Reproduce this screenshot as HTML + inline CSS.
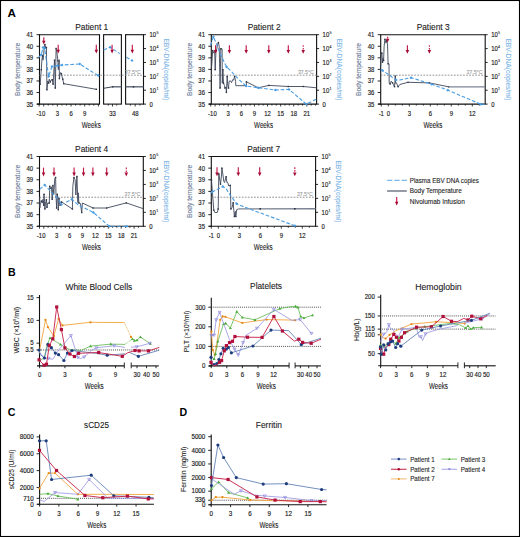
<!DOCTYPE html>
<html><head><meta charset="utf-8"><style>html,body{margin:0;padding:0;background:#fff;width:520px;height:537px;overflow:hidden}svg{display:block}text{font-family:"Liberation Sans",sans-serif}</style></head><body>
<svg width="520" height="537" viewBox="0 0 520 537" font-family='"Liberation Sans", sans-serif'>
<rect x="0" y="0" width="520" height="537" fill="#fff"/>
<rect x="0.5" y="0.5" width="519" height="536" fill="none" stroke="#000" stroke-width="1.1"/>
<text x="7.40" y="16.70" font-size="10.6" fill="#000" font-weight="bold" textLength="8.4" lengthAdjust="spacingAndGlyphs">A</text>
<text x="8.00" y="276.10" font-size="10.6" fill="#000" font-weight="bold">B</text>
<text x="7.80" y="415.60" font-size="10.6" fill="#000" font-weight="bold">C</text>
<text x="179.60" y="415.60" font-size="10.6" fill="#000" font-weight="bold">D</text>
<line x1="39.50" y1="34.70" x2="99.50" y2="34.70" stroke="#111" stroke-width="1.1"/>
<line x1="39.50" y1="34.20" x2="39.50" y2="104.60" stroke="#111" stroke-width="1.1"/>
<line x1="99.50" y1="34.20" x2="99.50" y2="104.60" stroke="#111" stroke-width="1.1"/>
<line x1="37.00" y1="104.10" x2="99.50" y2="104.10" stroke="#111" stroke-width="1.1"/>
<line x1="103.60" y1="34.70" x2="121.40" y2="34.70" stroke="#111" stroke-width="1.1"/>
<line x1="103.60" y1="34.20" x2="103.60" y2="104.60" stroke="#111" stroke-width="1.1"/>
<line x1="121.40" y1="34.20" x2="121.40" y2="104.60" stroke="#111" stroke-width="1.1"/>
<line x1="103.60" y1="104.10" x2="121.40" y2="104.10" stroke="#111" stroke-width="1.1"/>
<line x1="125.60" y1="34.70" x2="143.50" y2="34.70" stroke="#111" stroke-width="1.1"/>
<line x1="125.60" y1="34.20" x2="125.60" y2="104.60" stroke="#111" stroke-width="1.1"/>
<line x1="143.50" y1="34.20" x2="143.50" y2="104.60" stroke="#111" stroke-width="1.1"/>
<line x1="125.60" y1="104.10" x2="143.50" y2="104.10" stroke="#111" stroke-width="1.1"/>
<line x1="36.50" y1="104.10" x2="39.50" y2="104.10" stroke="#111" stroke-width="0.9"/>
<text x="33.20" y="106.50" font-size="6.7" fill="#222" text-anchor="end" textLength="6.63" lengthAdjust="spacingAndGlyphs" stroke="#222" stroke-width="0.16">35</text>
<line x1="36.50" y1="92.53" x2="39.50" y2="92.53" stroke="#111" stroke-width="0.9"/>
<text x="33.20" y="94.93" font-size="6.7" fill="#222" text-anchor="end" textLength="6.63" lengthAdjust="spacingAndGlyphs" stroke="#222" stroke-width="0.16">36</text>
<line x1="36.50" y1="80.97" x2="39.50" y2="80.97" stroke="#111" stroke-width="0.9"/>
<text x="33.20" y="83.37" font-size="6.7" fill="#222" text-anchor="end" textLength="6.63" lengthAdjust="spacingAndGlyphs" stroke="#222" stroke-width="0.16">37</text>
<line x1="36.50" y1="69.40" x2="39.50" y2="69.40" stroke="#111" stroke-width="0.9"/>
<text x="33.20" y="71.80" font-size="6.7" fill="#222" text-anchor="end" textLength="6.63" lengthAdjust="spacingAndGlyphs" stroke="#222" stroke-width="0.16">38</text>
<line x1="36.50" y1="57.83" x2="39.50" y2="57.83" stroke="#111" stroke-width="0.9"/>
<text x="33.20" y="60.23" font-size="6.7" fill="#222" text-anchor="end" textLength="6.63" lengthAdjust="spacingAndGlyphs" stroke="#222" stroke-width="0.16">39</text>
<line x1="36.50" y1="46.27" x2="39.50" y2="46.27" stroke="#111" stroke-width="0.9"/>
<text x="33.20" y="48.67" font-size="6.7" fill="#222" text-anchor="end" textLength="6.63" lengthAdjust="spacingAndGlyphs" stroke="#222" stroke-width="0.16">40</text>
<line x1="36.50" y1="34.70" x2="39.50" y2="34.70" stroke="#111" stroke-width="0.9"/>
<text x="33.20" y="37.10" font-size="6.7" fill="#222" text-anchor="end" textLength="6.63" lengthAdjust="spacingAndGlyphs" stroke="#222" stroke-width="0.16">41</text>
<line x1="143.50" y1="104.10" x2="146.00" y2="104.10" stroke="#111" stroke-width="0.9"/>
<text x="149.50" y="106.50" font-size="6.7" fill="#222" textLength="3.32" lengthAdjust="spacingAndGlyphs" stroke="#222" stroke-width="0.16">0</text>
<line x1="143.50" y1="90.22" x2="146.00" y2="90.22" stroke="#111" stroke-width="0.9"/>
<text x="149.50" y="92.62" font-size="6.7" fill="#222" textLength="6.63" lengthAdjust="spacingAndGlyphs" stroke="#222" stroke-width="0.16">10</text>
<text x="156.40" y="89.92" font-size="3.6" fill="#222" stroke="#222" stroke-width="0.1">1</text>
<line x1="143.50" y1="76.34" x2="146.00" y2="76.34" stroke="#111" stroke-width="0.9"/>
<text x="149.50" y="78.74" font-size="6.7" fill="#222" textLength="6.63" lengthAdjust="spacingAndGlyphs" stroke="#222" stroke-width="0.16">10</text>
<text x="156.40" y="76.04" font-size="3.6" fill="#222" stroke="#222" stroke-width="0.1">2</text>
<line x1="143.50" y1="62.46" x2="146.00" y2="62.46" stroke="#111" stroke-width="0.9"/>
<text x="149.50" y="64.86" font-size="6.7" fill="#222" textLength="6.63" lengthAdjust="spacingAndGlyphs" stroke="#222" stroke-width="0.16">10</text>
<text x="156.40" y="62.16" font-size="3.6" fill="#222" stroke="#222" stroke-width="0.1">3</text>
<line x1="143.50" y1="48.58" x2="146.00" y2="48.58" stroke="#111" stroke-width="0.9"/>
<text x="149.50" y="50.98" font-size="6.7" fill="#222" textLength="6.63" lengthAdjust="spacingAndGlyphs" stroke="#222" stroke-width="0.16">10</text>
<text x="156.40" y="48.28" font-size="3.6" fill="#222" stroke="#222" stroke-width="0.1">4</text>
<line x1="143.50" y1="34.70" x2="146.00" y2="34.70" stroke="#111" stroke-width="0.9"/>
<text x="149.50" y="37.10" font-size="6.7" fill="#222" textLength="6.63" lengthAdjust="spacingAndGlyphs" stroke="#222" stroke-width="0.16">10</text>
<text x="156.40" y="34.40" font-size="3.6" fill="#222" stroke="#222" stroke-width="0.1">5</text>
<line x1="39.14" y1="104.10" x2="39.14" y2="106.50" stroke="#111" stroke-width="0.8"/>
<text x="39.14" y="115.70" font-size="6.7" fill="#222" text-anchor="middle" textLength="5.30" lengthAdjust="spacingAndGlyphs" stroke="#222" stroke-width="0.16">-1</text>
<line x1="43.70" y1="104.10" x2="43.70" y2="106.50" stroke="#111" stroke-width="0.8"/>
<text x="43.70" y="115.70" font-size="6.7" fill="#222" text-anchor="middle" textLength="3.32" lengthAdjust="spacingAndGlyphs" stroke="#222" stroke-width="0.16">0</text>
<line x1="48.26" y1="104.10" x2="48.26" y2="105.60" stroke="#111" stroke-width="0.8"/>
<line x1="52.81" y1="104.10" x2="52.81" y2="105.60" stroke="#111" stroke-width="0.8"/>
<line x1="57.37" y1="104.10" x2="57.37" y2="106.50" stroke="#111" stroke-width="0.8"/>
<text x="57.37" y="115.70" font-size="6.7" fill="#222" text-anchor="middle" textLength="3.32" lengthAdjust="spacingAndGlyphs" stroke="#222" stroke-width="0.16">3</text>
<line x1="61.92" y1="104.10" x2="61.92" y2="105.60" stroke="#111" stroke-width="0.8"/>
<line x1="66.48" y1="104.10" x2="66.48" y2="105.60" stroke="#111" stroke-width="0.8"/>
<line x1="71.04" y1="104.10" x2="71.04" y2="106.50" stroke="#111" stroke-width="0.8"/>
<text x="71.04" y="115.70" font-size="6.7" fill="#222" text-anchor="middle" textLength="3.32" lengthAdjust="spacingAndGlyphs" stroke="#222" stroke-width="0.16">6</text>
<line x1="75.59" y1="104.10" x2="75.59" y2="105.60" stroke="#111" stroke-width="0.8"/>
<line x1="80.15" y1="104.10" x2="80.15" y2="105.60" stroke="#111" stroke-width="0.8"/>
<line x1="84.70" y1="104.10" x2="84.70" y2="106.50" stroke="#111" stroke-width="0.8"/>
<text x="84.70" y="115.70" font-size="6.7" fill="#222" text-anchor="middle" textLength="3.32" lengthAdjust="spacingAndGlyphs" stroke="#222" stroke-width="0.16">9</text>
<line x1="89.26" y1="104.10" x2="89.26" y2="105.60" stroke="#111" stroke-width="0.8"/>
<line x1="93.82" y1="104.10" x2="93.82" y2="105.60" stroke="#111" stroke-width="0.8"/>
<line x1="98.37" y1="104.10" x2="98.37" y2="106.50" stroke="#111" stroke-width="0.8"/>
<line x1="108.30" y1="104.10" x2="108.30" y2="105.60" stroke="#111" stroke-width="0.8"/>
<line x1="116.70" y1="104.10" x2="116.70" y2="105.60" stroke="#111" stroke-width="0.8"/>
<line x1="112.50" y1="104.10" x2="112.50" y2="106.50" stroke="#111" stroke-width="0.8"/>
<text x="112.50" y="115.70" font-size="6.7" fill="#222" text-anchor="middle" textLength="6.63" lengthAdjust="spacingAndGlyphs" stroke="#222" stroke-width="0.16">33</text>
<line x1="130.45" y1="104.10" x2="130.45" y2="105.60" stroke="#111" stroke-width="0.8"/>
<line x1="139.95" y1="104.10" x2="139.95" y2="105.60" stroke="#111" stroke-width="0.8"/>
<line x1="135.20" y1="104.10" x2="135.20" y2="106.50" stroke="#111" stroke-width="0.8"/>
<text x="135.20" y="115.70" font-size="6.7" fill="#222" text-anchor="middle" textLength="6.63" lengthAdjust="spacingAndGlyphs" stroke="#222" stroke-width="0.16">48</text>
<text x="91.70" y="29.80" font-size="8.8" fill="#1a1a1a" text-anchor="middle" textLength="33" lengthAdjust="spacingAndGlyphs" stroke="#1a1a1a" stroke-width="0.1">Patient 1</text>
<text x="91.30" y="127.50" font-size="8.4" fill="#222" text-anchor="middle" textLength="19" lengthAdjust="spacingAndGlyphs" stroke="#222" stroke-width="0.1">Weeks</text>
<text x="20.00" y="69.40" font-size="7.2" fill="#6a7a98" text-anchor="middle" textLength="53" lengthAdjust="spacingAndGlyphs" transform="rotate(-90 20.00 69.40)" stroke="#6a7a98" stroke-width="0.1">Body temperature</text>
<text x="164.00" y="69.40" font-size="7.2" fill="#79b4e6" text-anchor="middle" textLength="62" lengthAdjust="spacingAndGlyphs" transform="rotate(90 164.00 69.40)" stroke="#79b4e6" stroke-width="0.1">EBV-DNA(copies/ml)</text>
<line x1="39.50" y1="75.18" x2="143.50" y2="75.18" stroke="#858585" stroke-width="0.9" stroke-dasharray="1.7,1.35"/>
<text x="140.70" y="73.78" font-size="6.0" fill="#9a9a9a" text-anchor="end" textLength="15.9" lengthAdjust="spacingAndGlyphs" stroke="#9a9a9a" stroke-width="0.1">37.5°C</text>
<line x1="211.30" y1="34.70" x2="316.60" y2="34.70" stroke="#111" stroke-width="1.1"/>
<line x1="211.30" y1="34.20" x2="211.30" y2="104.60" stroke="#111" stroke-width="1.1"/>
<line x1="316.60" y1="34.20" x2="316.60" y2="104.60" stroke="#111" stroke-width="1.1"/>
<line x1="208.80" y1="104.10" x2="316.60" y2="104.10" stroke="#111" stroke-width="1.1"/>
<line x1="208.30" y1="104.10" x2="211.30" y2="104.10" stroke="#111" stroke-width="0.9"/>
<text x="205.00" y="106.50" font-size="6.7" fill="#222" text-anchor="end" textLength="6.63" lengthAdjust="spacingAndGlyphs" stroke="#222" stroke-width="0.16">35</text>
<line x1="208.30" y1="92.53" x2="211.30" y2="92.53" stroke="#111" stroke-width="0.9"/>
<text x="205.00" y="94.93" font-size="6.7" fill="#222" text-anchor="end" textLength="6.63" lengthAdjust="spacingAndGlyphs" stroke="#222" stroke-width="0.16">36</text>
<line x1="208.30" y1="80.97" x2="211.30" y2="80.97" stroke="#111" stroke-width="0.9"/>
<text x="205.00" y="83.37" font-size="6.7" fill="#222" text-anchor="end" textLength="6.63" lengthAdjust="spacingAndGlyphs" stroke="#222" stroke-width="0.16">37</text>
<line x1="208.30" y1="69.40" x2="211.30" y2="69.40" stroke="#111" stroke-width="0.9"/>
<text x="205.00" y="71.80" font-size="6.7" fill="#222" text-anchor="end" textLength="6.63" lengthAdjust="spacingAndGlyphs" stroke="#222" stroke-width="0.16">38</text>
<line x1="208.30" y1="57.83" x2="211.30" y2="57.83" stroke="#111" stroke-width="0.9"/>
<text x="205.00" y="60.23" font-size="6.7" fill="#222" text-anchor="end" textLength="6.63" lengthAdjust="spacingAndGlyphs" stroke="#222" stroke-width="0.16">39</text>
<line x1="208.30" y1="46.27" x2="211.30" y2="46.27" stroke="#111" stroke-width="0.9"/>
<text x="205.00" y="48.67" font-size="6.7" fill="#222" text-anchor="end" textLength="6.63" lengthAdjust="spacingAndGlyphs" stroke="#222" stroke-width="0.16">40</text>
<line x1="208.30" y1="34.70" x2="211.30" y2="34.70" stroke="#111" stroke-width="0.9"/>
<text x="205.00" y="37.10" font-size="6.7" fill="#222" text-anchor="end" textLength="6.63" lengthAdjust="spacingAndGlyphs" stroke="#222" stroke-width="0.16">41</text>
<line x1="316.60" y1="104.10" x2="319.10" y2="104.10" stroke="#111" stroke-width="0.9"/>
<text x="322.60" y="106.50" font-size="6.7" fill="#222" textLength="3.32" lengthAdjust="spacingAndGlyphs" stroke="#222" stroke-width="0.16">0</text>
<line x1="316.60" y1="90.22" x2="319.10" y2="90.22" stroke="#111" stroke-width="0.9"/>
<text x="322.60" y="92.62" font-size="6.7" fill="#222" textLength="6.63" lengthAdjust="spacingAndGlyphs" stroke="#222" stroke-width="0.16">10</text>
<text x="329.50" y="89.92" font-size="3.6" fill="#222" stroke="#222" stroke-width="0.1">1</text>
<line x1="316.60" y1="76.34" x2="319.10" y2="76.34" stroke="#111" stroke-width="0.9"/>
<text x="322.60" y="78.74" font-size="6.7" fill="#222" textLength="6.63" lengthAdjust="spacingAndGlyphs" stroke="#222" stroke-width="0.16">10</text>
<text x="329.50" y="76.04" font-size="3.6" fill="#222" stroke="#222" stroke-width="0.1">2</text>
<line x1="316.60" y1="62.46" x2="319.10" y2="62.46" stroke="#111" stroke-width="0.9"/>
<text x="322.60" y="64.86" font-size="6.7" fill="#222" textLength="6.63" lengthAdjust="spacingAndGlyphs" stroke="#222" stroke-width="0.16">10</text>
<text x="329.50" y="62.16" font-size="3.6" fill="#222" stroke="#222" stroke-width="0.1">3</text>
<line x1="316.60" y1="48.58" x2="319.10" y2="48.58" stroke="#111" stroke-width="0.9"/>
<text x="322.60" y="50.98" font-size="6.7" fill="#222" textLength="6.63" lengthAdjust="spacingAndGlyphs" stroke="#222" stroke-width="0.16">10</text>
<text x="329.50" y="48.28" font-size="3.6" fill="#222" stroke="#222" stroke-width="0.1">4</text>
<line x1="316.60" y1="34.70" x2="319.10" y2="34.70" stroke="#111" stroke-width="0.9"/>
<text x="322.60" y="37.10" font-size="6.7" fill="#222" textLength="6.63" lengthAdjust="spacingAndGlyphs" stroke="#222" stroke-width="0.16">10</text>
<text x="329.50" y="34.40" font-size="3.6" fill="#222" stroke="#222" stroke-width="0.1">5</text>
<line x1="210.73" y1="104.10" x2="210.73" y2="106.50" stroke="#111" stroke-width="0.8"/>
<text x="210.73" y="115.70" font-size="6.7" fill="#222" text-anchor="middle" textLength="5.30" lengthAdjust="spacingAndGlyphs" stroke="#222" stroke-width="0.16">-1</text>
<line x1="215.10" y1="104.10" x2="215.10" y2="106.50" stroke="#111" stroke-width="0.8"/>
<text x="215.10" y="115.70" font-size="6.7" fill="#222" text-anchor="middle" textLength="3.32" lengthAdjust="spacingAndGlyphs" stroke="#222" stroke-width="0.16">0</text>
<line x1="219.47" y1="104.10" x2="219.47" y2="105.60" stroke="#111" stroke-width="0.8"/>
<line x1="223.84" y1="104.10" x2="223.84" y2="105.60" stroke="#111" stroke-width="0.8"/>
<line x1="228.21" y1="104.10" x2="228.21" y2="106.50" stroke="#111" stroke-width="0.8"/>
<text x="228.21" y="115.70" font-size="6.7" fill="#222" text-anchor="middle" textLength="3.32" lengthAdjust="spacingAndGlyphs" stroke="#222" stroke-width="0.16">3</text>
<line x1="232.58" y1="104.10" x2="232.58" y2="105.60" stroke="#111" stroke-width="0.8"/>
<line x1="236.95" y1="104.10" x2="236.95" y2="105.60" stroke="#111" stroke-width="0.8"/>
<line x1="241.32" y1="104.10" x2="241.32" y2="106.50" stroke="#111" stroke-width="0.8"/>
<text x="241.32" y="115.70" font-size="6.7" fill="#222" text-anchor="middle" textLength="3.32" lengthAdjust="spacingAndGlyphs" stroke="#222" stroke-width="0.16">6</text>
<line x1="245.69" y1="104.10" x2="245.69" y2="105.60" stroke="#111" stroke-width="0.8"/>
<line x1="250.06" y1="104.10" x2="250.06" y2="105.60" stroke="#111" stroke-width="0.8"/>
<line x1="254.43" y1="104.10" x2="254.43" y2="106.50" stroke="#111" stroke-width="0.8"/>
<text x="254.43" y="115.70" font-size="6.7" fill="#222" text-anchor="middle" textLength="3.32" lengthAdjust="spacingAndGlyphs" stroke="#222" stroke-width="0.16">9</text>
<line x1="258.80" y1="104.10" x2="258.80" y2="105.60" stroke="#111" stroke-width="0.8"/>
<line x1="263.17" y1="104.10" x2="263.17" y2="105.60" stroke="#111" stroke-width="0.8"/>
<line x1="267.54" y1="104.10" x2="267.54" y2="106.50" stroke="#111" stroke-width="0.8"/>
<text x="267.54" y="115.70" font-size="6.7" fill="#222" text-anchor="middle" textLength="6.63" lengthAdjust="spacingAndGlyphs" stroke="#222" stroke-width="0.16">12</text>
<line x1="271.91" y1="104.10" x2="271.91" y2="105.60" stroke="#111" stroke-width="0.8"/>
<line x1="276.28" y1="104.10" x2="276.28" y2="105.60" stroke="#111" stroke-width="0.8"/>
<line x1="280.65" y1="104.10" x2="280.65" y2="106.50" stroke="#111" stroke-width="0.8"/>
<text x="280.65" y="115.70" font-size="6.7" fill="#222" text-anchor="middle" textLength="6.63" lengthAdjust="spacingAndGlyphs" stroke="#222" stroke-width="0.16">15</text>
<line x1="285.02" y1="104.10" x2="285.02" y2="105.60" stroke="#111" stroke-width="0.8"/>
<line x1="289.39" y1="104.10" x2="289.39" y2="105.60" stroke="#111" stroke-width="0.8"/>
<line x1="293.76" y1="104.10" x2="293.76" y2="106.50" stroke="#111" stroke-width="0.8"/>
<text x="293.76" y="115.70" font-size="6.7" fill="#222" text-anchor="middle" textLength="6.63" lengthAdjust="spacingAndGlyphs" stroke="#222" stroke-width="0.16">18</text>
<line x1="298.13" y1="104.10" x2="298.13" y2="105.60" stroke="#111" stroke-width="0.8"/>
<line x1="302.50" y1="104.10" x2="302.50" y2="105.60" stroke="#111" stroke-width="0.8"/>
<line x1="306.87" y1="104.10" x2="306.87" y2="106.50" stroke="#111" stroke-width="0.8"/>
<text x="306.87" y="115.70" font-size="6.7" fill="#222" text-anchor="middle" textLength="6.63" lengthAdjust="spacingAndGlyphs" stroke="#222" stroke-width="0.16">21</text>
<line x1="311.24" y1="104.10" x2="311.24" y2="105.60" stroke="#111" stroke-width="0.8"/>
<line x1="315.61" y1="104.10" x2="315.61" y2="105.60" stroke="#111" stroke-width="0.8"/>
<text x="264.15" y="29.80" font-size="8.8" fill="#1a1a1a" text-anchor="middle" textLength="33" lengthAdjust="spacingAndGlyphs" stroke="#1a1a1a" stroke-width="0.1">Patient 2</text>
<text x="263.60" y="127.50" font-size="8.4" fill="#222" text-anchor="middle" textLength="19" lengthAdjust="spacingAndGlyphs" stroke="#222" stroke-width="0.1">Weeks</text>
<text x="191.80" y="69.40" font-size="7.2" fill="#6a7a98" text-anchor="middle" textLength="53" lengthAdjust="spacingAndGlyphs" transform="rotate(-90 191.80 69.40)" stroke="#6a7a98" stroke-width="0.1">Body temperature</text>
<text x="337.10" y="69.40" font-size="7.2" fill="#79b4e6" text-anchor="middle" textLength="62" lengthAdjust="spacingAndGlyphs" transform="rotate(90 337.10 69.40)" stroke="#79b4e6" stroke-width="0.1">EBV-DNA(copies/ml)</text>
<line x1="211.30" y1="75.18" x2="316.60" y2="75.18" stroke="#858585" stroke-width="0.9" stroke-dasharray="1.7,1.35"/>
<text x="313.80" y="73.78" font-size="6.0" fill="#9a9a9a" text-anchor="end" textLength="15.9" lengthAdjust="spacingAndGlyphs" stroke="#9a9a9a" stroke-width="0.1">37.5°C</text>
<line x1="380.70" y1="34.70" x2="485.20" y2="34.70" stroke="#111" stroke-width="1.1"/>
<line x1="380.70" y1="34.20" x2="380.70" y2="104.60" stroke="#111" stroke-width="1.1"/>
<line x1="485.20" y1="34.20" x2="485.20" y2="104.60" stroke="#111" stroke-width="1.1"/>
<line x1="378.20" y1="104.10" x2="485.20" y2="104.10" stroke="#111" stroke-width="1.1"/>
<line x1="377.70" y1="104.10" x2="380.70" y2="104.10" stroke="#111" stroke-width="0.9"/>
<text x="374.40" y="106.50" font-size="6.7" fill="#222" text-anchor="end" textLength="6.63" lengthAdjust="spacingAndGlyphs" stroke="#222" stroke-width="0.16">35</text>
<line x1="377.70" y1="92.53" x2="380.70" y2="92.53" stroke="#111" stroke-width="0.9"/>
<text x="374.40" y="94.93" font-size="6.7" fill="#222" text-anchor="end" textLength="6.63" lengthAdjust="spacingAndGlyphs" stroke="#222" stroke-width="0.16">36</text>
<line x1="377.70" y1="80.97" x2="380.70" y2="80.97" stroke="#111" stroke-width="0.9"/>
<text x="374.40" y="83.37" font-size="6.7" fill="#222" text-anchor="end" textLength="6.63" lengthAdjust="spacingAndGlyphs" stroke="#222" stroke-width="0.16">37</text>
<line x1="377.70" y1="69.40" x2="380.70" y2="69.40" stroke="#111" stroke-width="0.9"/>
<text x="374.40" y="71.80" font-size="6.7" fill="#222" text-anchor="end" textLength="6.63" lengthAdjust="spacingAndGlyphs" stroke="#222" stroke-width="0.16">38</text>
<line x1="377.70" y1="57.83" x2="380.70" y2="57.83" stroke="#111" stroke-width="0.9"/>
<text x="374.40" y="60.23" font-size="6.7" fill="#222" text-anchor="end" textLength="6.63" lengthAdjust="spacingAndGlyphs" stroke="#222" stroke-width="0.16">39</text>
<line x1="377.70" y1="46.27" x2="380.70" y2="46.27" stroke="#111" stroke-width="0.9"/>
<text x="374.40" y="48.67" font-size="6.7" fill="#222" text-anchor="end" textLength="6.63" lengthAdjust="spacingAndGlyphs" stroke="#222" stroke-width="0.16">40</text>
<line x1="377.70" y1="34.70" x2="380.70" y2="34.70" stroke="#111" stroke-width="0.9"/>
<text x="374.40" y="37.10" font-size="6.7" fill="#222" text-anchor="end" textLength="6.63" lengthAdjust="spacingAndGlyphs" stroke="#222" stroke-width="0.16">41</text>
<line x1="485.20" y1="104.10" x2="487.70" y2="104.10" stroke="#111" stroke-width="0.9"/>
<text x="491.20" y="106.50" font-size="6.7" fill="#222" textLength="3.32" lengthAdjust="spacingAndGlyphs" stroke="#222" stroke-width="0.16">0</text>
<line x1="485.20" y1="90.22" x2="487.70" y2="90.22" stroke="#111" stroke-width="0.9"/>
<text x="491.20" y="92.62" font-size="6.7" fill="#222" textLength="6.63" lengthAdjust="spacingAndGlyphs" stroke="#222" stroke-width="0.16">10</text>
<text x="498.10" y="89.92" font-size="3.6" fill="#222" stroke="#222" stroke-width="0.1">1</text>
<line x1="485.20" y1="76.34" x2="487.70" y2="76.34" stroke="#111" stroke-width="0.9"/>
<text x="491.20" y="78.74" font-size="6.7" fill="#222" textLength="6.63" lengthAdjust="spacingAndGlyphs" stroke="#222" stroke-width="0.16">10</text>
<text x="498.10" y="76.04" font-size="3.6" fill="#222" stroke="#222" stroke-width="0.1">2</text>
<line x1="485.20" y1="62.46" x2="487.70" y2="62.46" stroke="#111" stroke-width="0.9"/>
<text x="491.20" y="64.86" font-size="6.7" fill="#222" textLength="6.63" lengthAdjust="spacingAndGlyphs" stroke="#222" stroke-width="0.16">10</text>
<text x="498.10" y="62.16" font-size="3.6" fill="#222" stroke="#222" stroke-width="0.1">3</text>
<line x1="485.20" y1="48.58" x2="487.70" y2="48.58" stroke="#111" stroke-width="0.9"/>
<text x="491.20" y="50.98" font-size="6.7" fill="#222" textLength="6.63" lengthAdjust="spacingAndGlyphs" stroke="#222" stroke-width="0.16">10</text>
<text x="498.10" y="48.28" font-size="3.6" fill="#222" stroke="#222" stroke-width="0.1">4</text>
<line x1="485.20" y1="34.70" x2="487.70" y2="34.70" stroke="#111" stroke-width="0.9"/>
<text x="491.20" y="37.10" font-size="6.7" fill="#222" textLength="6.63" lengthAdjust="spacingAndGlyphs" stroke="#222" stroke-width="0.16">10</text>
<text x="498.10" y="34.40" font-size="3.6" fill="#222" stroke="#222" stroke-width="0.1">5</text>
<line x1="381.30" y1="104.10" x2="381.30" y2="106.50" stroke="#111" stroke-width="0.8"/>
<text x="381.30" y="115.70" font-size="6.7" fill="#222" text-anchor="middle" textLength="5.30" lengthAdjust="spacingAndGlyphs" stroke="#222" stroke-width="0.16">-1</text>
<line x1="388.30" y1="104.10" x2="388.30" y2="106.50" stroke="#111" stroke-width="0.8"/>
<text x="388.30" y="115.70" font-size="6.7" fill="#222" text-anchor="middle" textLength="3.32" lengthAdjust="spacingAndGlyphs" stroke="#222" stroke-width="0.16">0</text>
<line x1="395.30" y1="104.10" x2="395.30" y2="105.60" stroke="#111" stroke-width="0.8"/>
<line x1="402.30" y1="104.10" x2="402.30" y2="105.60" stroke="#111" stroke-width="0.8"/>
<line x1="409.30" y1="104.10" x2="409.30" y2="106.50" stroke="#111" stroke-width="0.8"/>
<text x="409.30" y="115.70" font-size="6.7" fill="#222" text-anchor="middle" textLength="3.32" lengthAdjust="spacingAndGlyphs" stroke="#222" stroke-width="0.16">3</text>
<line x1="416.30" y1="104.10" x2="416.30" y2="105.60" stroke="#111" stroke-width="0.8"/>
<line x1="423.30" y1="104.10" x2="423.30" y2="105.60" stroke="#111" stroke-width="0.8"/>
<line x1="430.30" y1="104.10" x2="430.30" y2="106.50" stroke="#111" stroke-width="0.8"/>
<text x="430.30" y="115.70" font-size="6.7" fill="#222" text-anchor="middle" textLength="3.32" lengthAdjust="spacingAndGlyphs" stroke="#222" stroke-width="0.16">6</text>
<line x1="437.30" y1="104.10" x2="437.30" y2="105.60" stroke="#111" stroke-width="0.8"/>
<line x1="444.30" y1="104.10" x2="444.30" y2="105.60" stroke="#111" stroke-width="0.8"/>
<line x1="451.30" y1="104.10" x2="451.30" y2="106.50" stroke="#111" stroke-width="0.8"/>
<text x="451.30" y="115.70" font-size="6.7" fill="#222" text-anchor="middle" textLength="3.32" lengthAdjust="spacingAndGlyphs" stroke="#222" stroke-width="0.16">9</text>
<line x1="458.30" y1="104.10" x2="458.30" y2="105.60" stroke="#111" stroke-width="0.8"/>
<line x1="465.30" y1="104.10" x2="465.30" y2="105.60" stroke="#111" stroke-width="0.8"/>
<line x1="472.30" y1="104.10" x2="472.30" y2="106.50" stroke="#111" stroke-width="0.8"/>
<text x="472.30" y="115.70" font-size="6.7" fill="#222" text-anchor="middle" textLength="6.63" lengthAdjust="spacingAndGlyphs" stroke="#222" stroke-width="0.16">12</text>
<line x1="479.30" y1="104.10" x2="479.30" y2="105.60" stroke="#111" stroke-width="0.8"/>
<text x="433.15" y="29.80" font-size="8.8" fill="#1a1a1a" text-anchor="middle" textLength="33" lengthAdjust="spacingAndGlyphs" stroke="#1a1a1a" stroke-width="0.1">Patient 3</text>
<text x="433.00" y="127.50" font-size="8.4" fill="#222" text-anchor="middle" textLength="19" lengthAdjust="spacingAndGlyphs" stroke="#222" stroke-width="0.1">Weeks</text>
<text x="361.20" y="69.40" font-size="7.2" fill="#6a7a98" text-anchor="middle" textLength="53" lengthAdjust="spacingAndGlyphs" transform="rotate(-90 361.20 69.40)" stroke="#6a7a98" stroke-width="0.1">Body temperature</text>
<text x="505.70" y="69.40" font-size="7.2" fill="#79b4e6" text-anchor="middle" textLength="62" lengthAdjust="spacingAndGlyphs" transform="rotate(90 505.70 69.40)" stroke="#79b4e6" stroke-width="0.1">EBV-DNA(copies/ml)</text>
<line x1="380.70" y1="75.18" x2="485.20" y2="75.18" stroke="#858585" stroke-width="0.9" stroke-dasharray="1.7,1.35"/>
<text x="482.40" y="73.78" font-size="6.0" fill="#9a9a9a" text-anchor="end" textLength="15.9" lengthAdjust="spacingAndGlyphs" stroke="#9a9a9a" stroke-width="0.1">37.5°C</text>
<line x1="39.50" y1="156.50" x2="143.30" y2="156.50" stroke="#111" stroke-width="1.1"/>
<line x1="39.50" y1="156.00" x2="39.50" y2="226.80" stroke="#111" stroke-width="1.1"/>
<line x1="143.30" y1="156.00" x2="143.30" y2="226.80" stroke="#111" stroke-width="1.1"/>
<line x1="37.00" y1="226.30" x2="143.30" y2="226.30" stroke="#111" stroke-width="1.1"/>
<line x1="36.50" y1="226.30" x2="39.50" y2="226.30" stroke="#111" stroke-width="0.9"/>
<text x="33.20" y="228.70" font-size="6.7" fill="#222" text-anchor="end" textLength="6.63" lengthAdjust="spacingAndGlyphs" stroke="#222" stroke-width="0.16">35</text>
<line x1="36.50" y1="214.67" x2="39.50" y2="214.67" stroke="#111" stroke-width="0.9"/>
<text x="33.20" y="217.07" font-size="6.7" fill="#222" text-anchor="end" textLength="6.63" lengthAdjust="spacingAndGlyphs" stroke="#222" stroke-width="0.16">36</text>
<line x1="36.50" y1="203.03" x2="39.50" y2="203.03" stroke="#111" stroke-width="0.9"/>
<text x="33.20" y="205.43" font-size="6.7" fill="#222" text-anchor="end" textLength="6.63" lengthAdjust="spacingAndGlyphs" stroke="#222" stroke-width="0.16">37</text>
<line x1="36.50" y1="191.40" x2="39.50" y2="191.40" stroke="#111" stroke-width="0.9"/>
<text x="33.20" y="193.80" font-size="6.7" fill="#222" text-anchor="end" textLength="6.63" lengthAdjust="spacingAndGlyphs" stroke="#222" stroke-width="0.16">38</text>
<line x1="36.50" y1="179.77" x2="39.50" y2="179.77" stroke="#111" stroke-width="0.9"/>
<text x="33.20" y="182.17" font-size="6.7" fill="#222" text-anchor="end" textLength="6.63" lengthAdjust="spacingAndGlyphs" stroke="#222" stroke-width="0.16">39</text>
<line x1="36.50" y1="168.13" x2="39.50" y2="168.13" stroke="#111" stroke-width="0.9"/>
<text x="33.20" y="170.53" font-size="6.7" fill="#222" text-anchor="end" textLength="6.63" lengthAdjust="spacingAndGlyphs" stroke="#222" stroke-width="0.16">40</text>
<line x1="36.50" y1="156.50" x2="39.50" y2="156.50" stroke="#111" stroke-width="0.9"/>
<text x="33.20" y="158.90" font-size="6.7" fill="#222" text-anchor="end" textLength="6.63" lengthAdjust="spacingAndGlyphs" stroke="#222" stroke-width="0.16">41</text>
<line x1="143.30" y1="226.30" x2="145.80" y2="226.30" stroke="#111" stroke-width="0.9"/>
<text x="149.30" y="228.70" font-size="6.7" fill="#222" textLength="3.32" lengthAdjust="spacingAndGlyphs" stroke="#222" stroke-width="0.16">0</text>
<line x1="143.30" y1="212.34" x2="145.80" y2="212.34" stroke="#111" stroke-width="0.9"/>
<text x="149.30" y="214.74" font-size="6.7" fill="#222" textLength="6.63" lengthAdjust="spacingAndGlyphs" stroke="#222" stroke-width="0.16">10</text>
<text x="156.20" y="212.04" font-size="3.6" fill="#222" stroke="#222" stroke-width="0.1">1</text>
<line x1="143.30" y1="198.38" x2="145.80" y2="198.38" stroke="#111" stroke-width="0.9"/>
<text x="149.30" y="200.78" font-size="6.7" fill="#222" textLength="6.63" lengthAdjust="spacingAndGlyphs" stroke="#222" stroke-width="0.16">10</text>
<text x="156.20" y="198.08" font-size="3.6" fill="#222" stroke="#222" stroke-width="0.1">2</text>
<line x1="143.30" y1="184.42" x2="145.80" y2="184.42" stroke="#111" stroke-width="0.9"/>
<text x="149.30" y="186.82" font-size="6.7" fill="#222" textLength="6.63" lengthAdjust="spacingAndGlyphs" stroke="#222" stroke-width="0.16">10</text>
<text x="156.20" y="184.12" font-size="3.6" fill="#222" stroke="#222" stroke-width="0.1">3</text>
<line x1="143.30" y1="170.46" x2="145.80" y2="170.46" stroke="#111" stroke-width="0.9"/>
<text x="149.30" y="172.86" font-size="6.7" fill="#222" textLength="6.63" lengthAdjust="spacingAndGlyphs" stroke="#222" stroke-width="0.16">10</text>
<text x="156.20" y="170.16" font-size="3.6" fill="#222" stroke="#222" stroke-width="0.1">4</text>
<line x1="143.30" y1="156.50" x2="145.80" y2="156.50" stroke="#111" stroke-width="0.9"/>
<text x="149.30" y="158.90" font-size="6.7" fill="#222" textLength="6.63" lengthAdjust="spacingAndGlyphs" stroke="#222" stroke-width="0.16">10</text>
<text x="156.20" y="156.20" font-size="3.6" fill="#222" stroke="#222" stroke-width="0.1">5</text>
<line x1="39.50" y1="226.30" x2="39.50" y2="228.70" stroke="#111" stroke-width="0.8"/>
<text x="39.50" y="237.90" font-size="6.7" fill="#222" text-anchor="middle" textLength="5.30" lengthAdjust="spacingAndGlyphs" stroke="#222" stroke-width="0.16">-1</text>
<line x1="43.80" y1="226.30" x2="43.80" y2="228.70" stroke="#111" stroke-width="0.8"/>
<text x="43.80" y="237.90" font-size="6.7" fill="#222" text-anchor="middle" textLength="3.32" lengthAdjust="spacingAndGlyphs" stroke="#222" stroke-width="0.16">0</text>
<line x1="48.10" y1="226.30" x2="48.10" y2="227.80" stroke="#111" stroke-width="0.8"/>
<line x1="52.40" y1="226.30" x2="52.40" y2="227.80" stroke="#111" stroke-width="0.8"/>
<line x1="56.70" y1="226.30" x2="56.70" y2="228.70" stroke="#111" stroke-width="0.8"/>
<text x="56.70" y="237.90" font-size="6.7" fill="#222" text-anchor="middle" textLength="3.32" lengthAdjust="spacingAndGlyphs" stroke="#222" stroke-width="0.16">3</text>
<line x1="61.00" y1="226.30" x2="61.00" y2="227.80" stroke="#111" stroke-width="0.8"/>
<line x1="65.30" y1="226.30" x2="65.30" y2="227.80" stroke="#111" stroke-width="0.8"/>
<line x1="69.60" y1="226.30" x2="69.60" y2="228.70" stroke="#111" stroke-width="0.8"/>
<text x="69.60" y="237.90" font-size="6.7" fill="#222" text-anchor="middle" textLength="3.32" lengthAdjust="spacingAndGlyphs" stroke="#222" stroke-width="0.16">6</text>
<line x1="73.90" y1="226.30" x2="73.90" y2="227.80" stroke="#111" stroke-width="0.8"/>
<line x1="78.20" y1="226.30" x2="78.20" y2="227.80" stroke="#111" stroke-width="0.8"/>
<line x1="82.50" y1="226.30" x2="82.50" y2="228.70" stroke="#111" stroke-width="0.8"/>
<text x="82.50" y="237.90" font-size="6.7" fill="#222" text-anchor="middle" textLength="3.32" lengthAdjust="spacingAndGlyphs" stroke="#222" stroke-width="0.16">9</text>
<line x1="86.80" y1="226.30" x2="86.80" y2="227.80" stroke="#111" stroke-width="0.8"/>
<line x1="91.10" y1="226.30" x2="91.10" y2="227.80" stroke="#111" stroke-width="0.8"/>
<line x1="95.40" y1="226.30" x2="95.40" y2="228.70" stroke="#111" stroke-width="0.8"/>
<text x="95.40" y="237.90" font-size="6.7" fill="#222" text-anchor="middle" textLength="6.63" lengthAdjust="spacingAndGlyphs" stroke="#222" stroke-width="0.16">12</text>
<line x1="99.70" y1="226.30" x2="99.70" y2="227.80" stroke="#111" stroke-width="0.8"/>
<line x1="104.00" y1="226.30" x2="104.00" y2="227.80" stroke="#111" stroke-width="0.8"/>
<line x1="108.30" y1="226.30" x2="108.30" y2="228.70" stroke="#111" stroke-width="0.8"/>
<text x="108.30" y="237.90" font-size="6.7" fill="#222" text-anchor="middle" textLength="6.63" lengthAdjust="spacingAndGlyphs" stroke="#222" stroke-width="0.16">15</text>
<line x1="112.60" y1="226.30" x2="112.60" y2="227.80" stroke="#111" stroke-width="0.8"/>
<line x1="116.90" y1="226.30" x2="116.90" y2="227.80" stroke="#111" stroke-width="0.8"/>
<line x1="121.20" y1="226.30" x2="121.20" y2="228.70" stroke="#111" stroke-width="0.8"/>
<text x="121.20" y="237.90" font-size="6.7" fill="#222" text-anchor="middle" textLength="6.63" lengthAdjust="spacingAndGlyphs" stroke="#222" stroke-width="0.16">18</text>
<line x1="125.50" y1="226.30" x2="125.50" y2="227.80" stroke="#111" stroke-width="0.8"/>
<line x1="129.80" y1="226.30" x2="129.80" y2="227.80" stroke="#111" stroke-width="0.8"/>
<line x1="134.10" y1="226.30" x2="134.10" y2="228.70" stroke="#111" stroke-width="0.8"/>
<text x="134.10" y="237.90" font-size="6.7" fill="#222" text-anchor="middle" textLength="6.63" lengthAdjust="spacingAndGlyphs" stroke="#222" stroke-width="0.16">21</text>
<line x1="138.40" y1="226.30" x2="138.40" y2="227.80" stroke="#111" stroke-width="0.8"/>
<text x="91.60" y="151.60" font-size="8.8" fill="#1a1a1a" text-anchor="middle" textLength="33" lengthAdjust="spacingAndGlyphs" stroke="#1a1a1a" stroke-width="0.1">Patient 4</text>
<text x="91.40" y="249.70" font-size="8.4" fill="#222" text-anchor="middle" textLength="19" lengthAdjust="spacingAndGlyphs" stroke="#222" stroke-width="0.1">Weeks</text>
<text x="20.00" y="191.40" font-size="7.2" fill="#6a7a98" text-anchor="middle" textLength="53" lengthAdjust="spacingAndGlyphs" transform="rotate(-90 20.00 191.40)" stroke="#6a7a98" stroke-width="0.1">Body temperature</text>
<text x="163.80" y="191.40" font-size="7.2" fill="#79b4e6" text-anchor="middle" textLength="62" lengthAdjust="spacingAndGlyphs" transform="rotate(90 163.80 191.40)" stroke="#79b4e6" stroke-width="0.1">EBV-DNA(copies/ml)</text>
<line x1="39.50" y1="197.22" x2="143.30" y2="197.22" stroke="#858585" stroke-width="0.9" stroke-dasharray="1.7,1.35"/>
<text x="140.50" y="195.82" font-size="6.0" fill="#9a9a9a" text-anchor="end" textLength="15.9" lengthAdjust="spacingAndGlyphs" stroke="#9a9a9a" stroke-width="0.1">37.5°C</text>
<line x1="211.30" y1="156.50" x2="315.60" y2="156.50" stroke="#111" stroke-width="1.1"/>
<line x1="211.30" y1="156.00" x2="211.30" y2="226.80" stroke="#111" stroke-width="1.1"/>
<line x1="315.60" y1="156.00" x2="315.60" y2="226.80" stroke="#111" stroke-width="1.1"/>
<line x1="208.80" y1="226.30" x2="315.60" y2="226.30" stroke="#111" stroke-width="1.1"/>
<line x1="208.30" y1="226.30" x2="211.30" y2="226.30" stroke="#111" stroke-width="0.9"/>
<text x="205.00" y="228.70" font-size="6.7" fill="#222" text-anchor="end" textLength="6.63" lengthAdjust="spacingAndGlyphs" stroke="#222" stroke-width="0.16">35</text>
<line x1="208.30" y1="214.67" x2="211.30" y2="214.67" stroke="#111" stroke-width="0.9"/>
<text x="205.00" y="217.07" font-size="6.7" fill="#222" text-anchor="end" textLength="6.63" lengthAdjust="spacingAndGlyphs" stroke="#222" stroke-width="0.16">36</text>
<line x1="208.30" y1="203.03" x2="211.30" y2="203.03" stroke="#111" stroke-width="0.9"/>
<text x="205.00" y="205.43" font-size="6.7" fill="#222" text-anchor="end" textLength="6.63" lengthAdjust="spacingAndGlyphs" stroke="#222" stroke-width="0.16">37</text>
<line x1="208.30" y1="191.40" x2="211.30" y2="191.40" stroke="#111" stroke-width="0.9"/>
<text x="205.00" y="193.80" font-size="6.7" fill="#222" text-anchor="end" textLength="6.63" lengthAdjust="spacingAndGlyphs" stroke="#222" stroke-width="0.16">38</text>
<line x1="208.30" y1="179.77" x2="211.30" y2="179.77" stroke="#111" stroke-width="0.9"/>
<text x="205.00" y="182.17" font-size="6.7" fill="#222" text-anchor="end" textLength="6.63" lengthAdjust="spacingAndGlyphs" stroke="#222" stroke-width="0.16">39</text>
<line x1="208.30" y1="168.13" x2="211.30" y2="168.13" stroke="#111" stroke-width="0.9"/>
<text x="205.00" y="170.53" font-size="6.7" fill="#222" text-anchor="end" textLength="6.63" lengthAdjust="spacingAndGlyphs" stroke="#222" stroke-width="0.16">40</text>
<line x1="208.30" y1="156.50" x2="211.30" y2="156.50" stroke="#111" stroke-width="0.9"/>
<text x="205.00" y="158.90" font-size="6.7" fill="#222" text-anchor="end" textLength="6.63" lengthAdjust="spacingAndGlyphs" stroke="#222" stroke-width="0.16">41</text>
<line x1="315.60" y1="226.30" x2="318.10" y2="226.30" stroke="#111" stroke-width="0.9"/>
<text x="321.60" y="228.70" font-size="6.7" fill="#222" textLength="3.32" lengthAdjust="spacingAndGlyphs" stroke="#222" stroke-width="0.16">0</text>
<line x1="315.60" y1="212.34" x2="318.10" y2="212.34" stroke="#111" stroke-width="0.9"/>
<text x="321.60" y="214.74" font-size="6.7" fill="#222" textLength="6.63" lengthAdjust="spacingAndGlyphs" stroke="#222" stroke-width="0.16">10</text>
<text x="328.50" y="212.04" font-size="3.6" fill="#222" stroke="#222" stroke-width="0.1">1</text>
<line x1="315.60" y1="198.38" x2="318.10" y2="198.38" stroke="#111" stroke-width="0.9"/>
<text x="321.60" y="200.78" font-size="6.7" fill="#222" textLength="6.63" lengthAdjust="spacingAndGlyphs" stroke="#222" stroke-width="0.16">10</text>
<text x="328.50" y="198.08" font-size="3.6" fill="#222" stroke="#222" stroke-width="0.1">2</text>
<line x1="315.60" y1="184.42" x2="318.10" y2="184.42" stroke="#111" stroke-width="0.9"/>
<text x="321.60" y="186.82" font-size="6.7" fill="#222" textLength="6.63" lengthAdjust="spacingAndGlyphs" stroke="#222" stroke-width="0.16">10</text>
<text x="328.50" y="184.12" font-size="3.6" fill="#222" stroke="#222" stroke-width="0.1">3</text>
<line x1="315.60" y1="170.46" x2="318.10" y2="170.46" stroke="#111" stroke-width="0.9"/>
<text x="321.60" y="172.86" font-size="6.7" fill="#222" textLength="6.63" lengthAdjust="spacingAndGlyphs" stroke="#222" stroke-width="0.16">10</text>
<text x="328.50" y="170.16" font-size="3.6" fill="#222" stroke="#222" stroke-width="0.1">4</text>
<line x1="315.60" y1="156.50" x2="318.10" y2="156.50" stroke="#111" stroke-width="0.9"/>
<text x="321.60" y="158.90" font-size="6.7" fill="#222" textLength="6.63" lengthAdjust="spacingAndGlyphs" stroke="#222" stroke-width="0.16">10</text>
<text x="328.50" y="156.20" font-size="3.6" fill="#222" stroke="#222" stroke-width="0.1">5</text>
<line x1="211.30" y1="226.30" x2="211.30" y2="228.70" stroke="#111" stroke-width="0.8"/>
<text x="211.30" y="237.90" font-size="6.7" fill="#222" text-anchor="middle" textLength="5.30" lengthAdjust="spacingAndGlyphs" stroke="#222" stroke-width="0.16">-1</text>
<line x1="218.30" y1="226.30" x2="218.30" y2="228.70" stroke="#111" stroke-width="0.8"/>
<text x="218.30" y="237.90" font-size="6.7" fill="#222" text-anchor="middle" textLength="3.32" lengthAdjust="spacingAndGlyphs" stroke="#222" stroke-width="0.16">0</text>
<line x1="225.30" y1="226.30" x2="225.30" y2="227.80" stroke="#111" stroke-width="0.8"/>
<line x1="232.30" y1="226.30" x2="232.30" y2="227.80" stroke="#111" stroke-width="0.8"/>
<line x1="239.30" y1="226.30" x2="239.30" y2="228.70" stroke="#111" stroke-width="0.8"/>
<text x="239.30" y="237.90" font-size="6.7" fill="#222" text-anchor="middle" textLength="3.32" lengthAdjust="spacingAndGlyphs" stroke="#222" stroke-width="0.16">3</text>
<line x1="246.30" y1="226.30" x2="246.30" y2="227.80" stroke="#111" stroke-width="0.8"/>
<line x1="253.30" y1="226.30" x2="253.30" y2="227.80" stroke="#111" stroke-width="0.8"/>
<line x1="260.30" y1="226.30" x2="260.30" y2="228.70" stroke="#111" stroke-width="0.8"/>
<text x="260.30" y="237.90" font-size="6.7" fill="#222" text-anchor="middle" textLength="3.32" lengthAdjust="spacingAndGlyphs" stroke="#222" stroke-width="0.16">6</text>
<line x1="267.30" y1="226.30" x2="267.30" y2="227.80" stroke="#111" stroke-width="0.8"/>
<line x1="274.30" y1="226.30" x2="274.30" y2="227.80" stroke="#111" stroke-width="0.8"/>
<line x1="281.30" y1="226.30" x2="281.30" y2="228.70" stroke="#111" stroke-width="0.8"/>
<text x="281.30" y="237.90" font-size="6.7" fill="#222" text-anchor="middle" textLength="3.32" lengthAdjust="spacingAndGlyphs" stroke="#222" stroke-width="0.16">9</text>
<line x1="288.30" y1="226.30" x2="288.30" y2="227.80" stroke="#111" stroke-width="0.8"/>
<line x1="295.30" y1="226.30" x2="295.30" y2="227.80" stroke="#111" stroke-width="0.8"/>
<line x1="302.30" y1="226.30" x2="302.30" y2="228.70" stroke="#111" stroke-width="0.8"/>
<text x="302.30" y="237.90" font-size="6.7" fill="#222" text-anchor="middle" textLength="6.63" lengthAdjust="spacingAndGlyphs" stroke="#222" stroke-width="0.16">12</text>
<line x1="309.30" y1="226.30" x2="309.30" y2="227.80" stroke="#111" stroke-width="0.8"/>
<text x="263.65" y="151.60" font-size="8.8" fill="#1a1a1a" text-anchor="middle" textLength="33" lengthAdjust="spacingAndGlyphs" stroke="#1a1a1a" stroke-width="0.1">Patient 7</text>
<text x="263.20" y="249.70" font-size="8.4" fill="#222" text-anchor="middle" textLength="19" lengthAdjust="spacingAndGlyphs" stroke="#222" stroke-width="0.1">Weeks</text>
<text x="191.80" y="191.40" font-size="7.2" fill="#6a7a98" text-anchor="middle" textLength="53" lengthAdjust="spacingAndGlyphs" transform="rotate(-90 191.80 191.40)" stroke="#6a7a98" stroke-width="0.1">Body temperature</text>
<text x="336.10" y="191.40" font-size="7.2" fill="#79b4e6" text-anchor="middle" textLength="62" lengthAdjust="spacingAndGlyphs" transform="rotate(90 336.10 191.40)" stroke="#79b4e6" stroke-width="0.1">EBV-DNA(copies/ml)</text>
<line x1="211.30" y1="197.22" x2="315.60" y2="197.22" stroke="#858585" stroke-width="0.9" stroke-dasharray="1.7,1.35"/>
<text x="312.80" y="195.82" font-size="6.0" fill="#9a9a9a" text-anchor="end" textLength="15.9" lengthAdjust="spacingAndGlyphs" stroke="#9a9a9a" stroke-width="0.1">37.5°C</text>
<line x1="387.10" y1="180.30" x2="406.90" y2="180.30" stroke="#5aa5e5" stroke-width="1.0" stroke-dasharray="5.3,1.95"/>
<line x1="387.10" y1="191.00" x2="406.80" y2="191.00" stroke="#8a909c" stroke-width="1.8"/>
<line x1="396.70" y1="197.10" x2="396.70" y2="202.40" stroke="#c41a48" stroke-width="1.15"/>
<path d="M394.95,201.80 L398.45,201.80 L396.70,205.60 Z" fill="#a80a34"/>
<text x="409.80" y="182.60" font-size="6.9" fill="#1a1a1a" textLength="69" lengthAdjust="spacingAndGlyphs" stroke="#1a1a1a" stroke-width="0.1">Plasma EBV DNA copies</text>
<text x="409.80" y="193.20" font-size="6.9" fill="#1a1a1a" textLength="52" lengthAdjust="spacingAndGlyphs" stroke="#1a1a1a" stroke-width="0.1">Body Temperature</text>
<text x="409.80" y="203.80" font-size="6.9" fill="#1a1a1a" textLength="55" lengthAdjust="spacingAndGlyphs" stroke="#1a1a1a" stroke-width="0.1">Nivolumab Infusion</text>
<line x1="39.50" y1="295.00" x2="39.50" y2="366.40" stroke="#111" stroke-width="1.1"/>
<line x1="36.50" y1="297.65" x2="39.50" y2="297.65" stroke="#111" stroke-width="0.9"/>
<text x="33.70" y="299.95" font-size="6.7" fill="#222" text-anchor="end" textLength="6.78" lengthAdjust="spacingAndGlyphs" stroke="#222" stroke-width="0.16">15</text>
<line x1="36.50" y1="320.40" x2="39.50" y2="320.40" stroke="#111" stroke-width="0.9"/>
<text x="33.70" y="322.70" font-size="6.7" fill="#222" text-anchor="end" textLength="6.78" lengthAdjust="spacingAndGlyphs" stroke="#222" stroke-width="0.16">10</text>
<line x1="36.50" y1="343.15" x2="39.50" y2="343.15" stroke="#111" stroke-width="0.9"/>
<text x="33.70" y="345.45" font-size="6.7" fill="#222" text-anchor="end" textLength="3.39" lengthAdjust="spacingAndGlyphs" stroke="#222" stroke-width="0.16">5</text>
<line x1="36.50" y1="349.97" x2="39.50" y2="349.97" stroke="#111" stroke-width="0.9"/>
<text x="33.70" y="352.27" font-size="6.7" fill="#222" text-anchor="end" textLength="8.47" lengthAdjust="spacingAndGlyphs" stroke="#222" stroke-width="0.16">3.5</text>
<line x1="37.00" y1="365.90" x2="124.30" y2="365.90" stroke="#111" stroke-width="1.1"/>
<line x1="124.30" y1="362.50" x2="124.30" y2="368.30" stroke="#111" stroke-width="0.9"/>
<line x1="131.20" y1="365.90" x2="158.80" y2="365.90" stroke="#111" stroke-width="1.1"/>
<line x1="131.20" y1="362.50" x2="131.20" y2="368.30" stroke="#111" stroke-width="0.9"/>
<line x1="39.60" y1="365.90" x2="39.60" y2="368.20" stroke="#111" stroke-width="0.9"/>
<text x="39.60" y="377.30" font-size="6.7" fill="#222" text-anchor="middle" textLength="3.39" lengthAdjust="spacingAndGlyphs" stroke="#222" stroke-width="0.16">0</text>
<line x1="64.92" y1="365.90" x2="64.92" y2="368.20" stroke="#111" stroke-width="0.9"/>
<text x="64.92" y="377.30" font-size="6.7" fill="#222" text-anchor="middle" textLength="3.39" lengthAdjust="spacingAndGlyphs" stroke="#222" stroke-width="0.16">3</text>
<line x1="90.24" y1="365.90" x2="90.24" y2="368.20" stroke="#111" stroke-width="0.9"/>
<text x="90.24" y="377.30" font-size="6.7" fill="#222" text-anchor="middle" textLength="3.39" lengthAdjust="spacingAndGlyphs" stroke="#222" stroke-width="0.16">6</text>
<line x1="115.56" y1="365.90" x2="115.56" y2="368.20" stroke="#111" stroke-width="0.9"/>
<text x="115.56" y="377.30" font-size="6.7" fill="#222" text-anchor="middle" textLength="3.39" lengthAdjust="spacingAndGlyphs" stroke="#222" stroke-width="0.16">9</text>
<line x1="137.00" y1="365.90" x2="137.00" y2="368.20" stroke="#111" stroke-width="0.9"/>
<text x="137.00" y="377.30" font-size="6.7" fill="#222" text-anchor="middle" textLength="6.78" lengthAdjust="spacingAndGlyphs" stroke="#222" stroke-width="0.16">30</text>
<line x1="146.50" y1="365.90" x2="146.50" y2="368.20" stroke="#111" stroke-width="0.9"/>
<text x="146.50" y="377.30" font-size="6.7" fill="#222" text-anchor="middle" textLength="6.78" lengthAdjust="spacingAndGlyphs" stroke="#222" stroke-width="0.16">40</text>
<line x1="156.00" y1="365.90" x2="156.00" y2="368.20" stroke="#111" stroke-width="0.9"/>
<text x="156.00" y="377.30" font-size="6.7" fill="#222" text-anchor="middle" textLength="6.78" lengthAdjust="spacingAndGlyphs" stroke="#222" stroke-width="0.16">50</text>
<text x="98.85" y="290.00" font-size="8.6" fill="#1a1a1a" text-anchor="middle" textLength="66.9" lengthAdjust="spacingAndGlyphs" stroke="#1a1a1a" stroke-width="0.1">White Blood Cells</text>
<text x="94.20" y="388.50" font-size="8.4" fill="#222" text-anchor="middle" textLength="19" lengthAdjust="spacingAndGlyphs" stroke="#222" stroke-width="0.1">Weeks</text>
<text x="18.80" y="330.20" font-size="7.6" fill="#222" text-anchor="middle" textLength="46.5" lengthAdjust="spacingAndGlyphs" transform="rotate(-90 18.80 330.20)" stroke="#222" stroke-width="0.1">WBC (×10<tspan font-size="4.4" dy="-2.6">9</tspan><tspan dy="2.6">/ml)</tspan></text>
<line x1="41.00" y1="349.97" x2="158.80" y2="349.97" stroke="#222" stroke-width="0.85" stroke-dasharray="0.9,1.05"/>
<line x1="211.30" y1="297.70" x2="211.30" y2="366.40" stroke="#111" stroke-width="1.1"/>
<line x1="208.30" y1="307.20" x2="211.30" y2="307.20" stroke="#111" stroke-width="0.9"/>
<text x="205.50" y="309.50" font-size="6.7" fill="#222" text-anchor="end" textLength="10.17" lengthAdjust="spacingAndGlyphs" stroke="#222" stroke-width="0.16">300</text>
<line x1="208.30" y1="326.80" x2="211.30" y2="326.80" stroke="#111" stroke-width="0.9"/>
<text x="205.50" y="329.10" font-size="6.7" fill="#222" text-anchor="end" textLength="10.17" lengthAdjust="spacingAndGlyphs" stroke="#222" stroke-width="0.16">200</text>
<line x1="208.30" y1="346.40" x2="211.30" y2="346.40" stroke="#111" stroke-width="0.9"/>
<text x="205.50" y="348.70" font-size="6.7" fill="#222" text-anchor="end" textLength="10.17" lengthAdjust="spacingAndGlyphs" stroke="#222" stroke-width="0.16">100</text>
<line x1="208.30" y1="366.00" x2="211.30" y2="366.00" stroke="#111" stroke-width="0.9"/>
<text x="205.50" y="368.30" font-size="6.7" fill="#222" text-anchor="end" textLength="3.39" lengthAdjust="spacingAndGlyphs" stroke="#222" stroke-width="0.16">0</text>
<line x1="208.80" y1="365.90" x2="289.10" y2="365.90" stroke="#111" stroke-width="1.1"/>
<line x1="289.10" y1="362.50" x2="289.10" y2="368.30" stroke="#111" stroke-width="0.9"/>
<line x1="295.10" y1="365.90" x2="320.90" y2="365.90" stroke="#111" stroke-width="1.1"/>
<line x1="295.10" y1="362.50" x2="295.10" y2="368.30" stroke="#111" stroke-width="0.9"/>
<line x1="211.20" y1="365.90" x2="211.20" y2="368.20" stroke="#111" stroke-width="0.9"/>
<text x="211.20" y="377.30" font-size="6.7" fill="#222" text-anchor="middle" textLength="3.39" lengthAdjust="spacingAndGlyphs" stroke="#222" stroke-width="0.16">0</text>
<line x1="226.80" y1="365.90" x2="226.80" y2="368.20" stroke="#111" stroke-width="0.9"/>
<text x="226.80" y="377.30" font-size="6.7" fill="#222" text-anchor="middle" textLength="3.39" lengthAdjust="spacingAndGlyphs" stroke="#222" stroke-width="0.16">3</text>
<line x1="242.40" y1="365.90" x2="242.40" y2="368.20" stroke="#111" stroke-width="0.9"/>
<text x="242.40" y="377.30" font-size="6.7" fill="#222" text-anchor="middle" textLength="3.39" lengthAdjust="spacingAndGlyphs" stroke="#222" stroke-width="0.16">6</text>
<line x1="258.00" y1="365.90" x2="258.00" y2="368.20" stroke="#111" stroke-width="0.9"/>
<text x="258.00" y="377.30" font-size="6.7" fill="#222" text-anchor="middle" textLength="3.39" lengthAdjust="spacingAndGlyphs" stroke="#222" stroke-width="0.16">9</text>
<line x1="273.60" y1="365.90" x2="273.60" y2="368.20" stroke="#111" stroke-width="0.9"/>
<text x="273.60" y="377.30" font-size="6.7" fill="#222" text-anchor="middle" textLength="6.78" lengthAdjust="spacingAndGlyphs" stroke="#222" stroke-width="0.16">12</text>
<line x1="300.40" y1="365.90" x2="300.40" y2="368.20" stroke="#111" stroke-width="0.9"/>
<text x="300.40" y="377.30" font-size="6.7" fill="#222" text-anchor="middle" textLength="6.78" lengthAdjust="spacingAndGlyphs" stroke="#222" stroke-width="0.16">30</text>
<line x1="308.70" y1="365.90" x2="308.70" y2="368.20" stroke="#111" stroke-width="0.9"/>
<text x="308.70" y="377.30" font-size="6.7" fill="#222" text-anchor="middle" textLength="6.78" lengthAdjust="spacingAndGlyphs" stroke="#222" stroke-width="0.16">40</text>
<line x1="317.00" y1="365.90" x2="317.00" y2="368.20" stroke="#111" stroke-width="0.9"/>
<text x="317.00" y="377.30" font-size="6.7" fill="#222" text-anchor="middle" textLength="6.78" lengthAdjust="spacingAndGlyphs" stroke="#222" stroke-width="0.16">50</text>
<text x="266.05" y="289.40" font-size="8.6" fill="#1a1a1a" text-anchor="middle" textLength="31.9" lengthAdjust="spacingAndGlyphs" stroke="#1a1a1a" stroke-width="0.1">Platelets</text>
<text x="266.30" y="388.50" font-size="8.4" fill="#222" text-anchor="middle" textLength="19" lengthAdjust="spacingAndGlyphs" stroke="#222" stroke-width="0.1">Weeks</text>
<text x="189.30" y="331.50" font-size="7.6" fill="#222" text-anchor="middle" textLength="41.5" lengthAdjust="spacingAndGlyphs" transform="rotate(-90 189.30 331.50)" stroke="#222" stroke-width="0.1">PLT (×10<tspan font-size="4.4" dy="-2.6">9</tspan><tspan dy="2.6">/ml)</tspan></text>
<line x1="212.80" y1="307.20" x2="320.90" y2="307.20" stroke="#222" stroke-width="0.85" stroke-dasharray="0.9,1.05"/>
<line x1="212.80" y1="346.40" x2="320.90" y2="346.40" stroke="#222" stroke-width="0.85" stroke-dasharray="0.9,1.05"/>
<line x1="380.70" y1="294.80" x2="380.70" y2="366.30" stroke="#111" stroke-width="1.1"/>
<line x1="377.70" y1="297.10" x2="380.70" y2="297.10" stroke="#111" stroke-width="0.9"/>
<text x="374.90" y="299.40" font-size="6.7" fill="#222" text-anchor="end" textLength="10.17" lengthAdjust="spacingAndGlyphs" stroke="#222" stroke-width="0.16">200</text>
<line x1="377.70" y1="315.94" x2="380.70" y2="315.94" stroke="#111" stroke-width="0.9"/>
<text x="374.90" y="318.24" font-size="6.7" fill="#222" text-anchor="end" textLength="10.17" lengthAdjust="spacingAndGlyphs" stroke="#222" stroke-width="0.16">150</text>
<line x1="377.70" y1="329.12" x2="380.70" y2="329.12" stroke="#111" stroke-width="0.9"/>
<text x="374.90" y="331.42" font-size="6.7" fill="#222" text-anchor="end" textLength="9.72" lengthAdjust="spacingAndGlyphs" stroke="#222" stroke-width="0.16">115</text>
<line x1="377.70" y1="334.77" x2="380.70" y2="334.77" stroke="#111" stroke-width="0.9"/>
<text x="374.90" y="337.07" font-size="6.7" fill="#222" text-anchor="end" textLength="10.17" lengthAdjust="spacingAndGlyphs" stroke="#222" stroke-width="0.16">100</text>
<line x1="377.70" y1="353.61" x2="380.70" y2="353.61" stroke="#111" stroke-width="0.9"/>
<text x="374.90" y="355.91" font-size="6.7" fill="#222" text-anchor="end" textLength="6.78" lengthAdjust="spacingAndGlyphs" stroke="#222" stroke-width="0.16">50</text>
<line x1="378.20" y1="365.80" x2="457.90" y2="365.80" stroke="#111" stroke-width="1.1"/>
<line x1="457.90" y1="362.40" x2="457.90" y2="368.20" stroke="#111" stroke-width="0.9"/>
<line x1="464.40" y1="365.80" x2="495.70" y2="365.80" stroke="#111" stroke-width="1.1"/>
<line x1="464.40" y1="362.40" x2="464.40" y2="368.20" stroke="#111" stroke-width="0.9"/>
<line x1="380.60" y1="365.80" x2="380.60" y2="368.10" stroke="#111" stroke-width="0.9"/>
<text x="380.60" y="377.20" font-size="6.7" fill="#222" text-anchor="middle" textLength="3.39" lengthAdjust="spacingAndGlyphs" stroke="#222" stroke-width="0.16">0</text>
<line x1="396.20" y1="365.80" x2="396.20" y2="368.10" stroke="#111" stroke-width="0.9"/>
<text x="396.20" y="377.20" font-size="6.7" fill="#222" text-anchor="middle" textLength="3.39" lengthAdjust="spacingAndGlyphs" stroke="#222" stroke-width="0.16">3</text>
<line x1="411.80" y1="365.80" x2="411.80" y2="368.10" stroke="#111" stroke-width="0.9"/>
<text x="411.80" y="377.20" font-size="6.7" fill="#222" text-anchor="middle" textLength="3.39" lengthAdjust="spacingAndGlyphs" stroke="#222" stroke-width="0.16">6</text>
<line x1="427.40" y1="365.80" x2="427.40" y2="368.10" stroke="#111" stroke-width="0.9"/>
<text x="427.40" y="377.20" font-size="6.7" fill="#222" text-anchor="middle" textLength="3.39" lengthAdjust="spacingAndGlyphs" stroke="#222" stroke-width="0.16">9</text>
<line x1="443.00" y1="365.80" x2="443.00" y2="368.10" stroke="#111" stroke-width="0.9"/>
<text x="443.00" y="377.20" font-size="6.7" fill="#222" text-anchor="middle" textLength="6.78" lengthAdjust="spacingAndGlyphs" stroke="#222" stroke-width="0.16">12</text>
<line x1="469.70" y1="365.80" x2="469.70" y2="368.10" stroke="#111" stroke-width="0.9"/>
<text x="469.70" y="377.20" font-size="6.7" fill="#222" text-anchor="middle" textLength="6.78" lengthAdjust="spacingAndGlyphs" stroke="#222" stroke-width="0.16">30</text>
<line x1="478.00" y1="365.80" x2="478.00" y2="368.10" stroke="#111" stroke-width="0.9"/>
<text x="478.00" y="377.20" font-size="6.7" fill="#222" text-anchor="middle" textLength="6.78" lengthAdjust="spacingAndGlyphs" stroke="#222" stroke-width="0.16">40</text>
<line x1="486.30" y1="365.80" x2="486.30" y2="368.10" stroke="#111" stroke-width="0.9"/>
<text x="486.30" y="377.20" font-size="6.7" fill="#222" text-anchor="middle" textLength="6.78" lengthAdjust="spacingAndGlyphs" stroke="#222" stroke-width="0.16">50</text>
<text x="438.45" y="289.50" font-size="8.6" fill="#1a1a1a" text-anchor="middle" textLength="46.5" lengthAdjust="spacingAndGlyphs" stroke="#1a1a1a" stroke-width="0.1">Hemoglobin</text>
<text x="438.50" y="388.50" font-size="8.4" fill="#222" text-anchor="middle" textLength="19" lengthAdjust="spacingAndGlyphs" stroke="#222" stroke-width="0.1">Weeks</text>
<text x="358.60" y="329.70" font-size="8.0" fill="#222" text-anchor="middle" textLength="22.6" lengthAdjust="spacingAndGlyphs" transform="rotate(-90 358.60 329.70)" stroke="#222" stroke-width="0.1">Hb(g/L)</text>
<line x1="382.20" y1="315.94" x2="495.70" y2="315.94" stroke="#222" stroke-width="0.85" stroke-dasharray="0.9,1.05"/>
<line x1="382.20" y1="329.12" x2="495.70" y2="329.12" stroke="#222" stroke-width="0.85" stroke-dasharray="0.9,1.05"/>
<line x1="39.60" y1="434.40" x2="39.60" y2="504.80" stroke="#111" stroke-width="1.1"/>
<line x1="36.60" y1="436.90" x2="39.60" y2="436.90" stroke="#111" stroke-width="0.9"/>
<text x="33.80" y="439.20" font-size="6.7" fill="#222" text-anchor="end" textLength="14.01" lengthAdjust="spacingAndGlyphs" stroke="#222" stroke-width="0.16">8000</text>
<line x1="36.60" y1="453.75" x2="39.60" y2="453.75" stroke="#111" stroke-width="0.9"/>
<text x="33.80" y="456.05" font-size="6.7" fill="#222" text-anchor="end" textLength="14.01" lengthAdjust="spacingAndGlyphs" stroke="#222" stroke-width="0.16">6000</text>
<line x1="36.60" y1="470.60" x2="39.60" y2="470.60" stroke="#111" stroke-width="0.9"/>
<text x="33.80" y="472.90" font-size="6.7" fill="#222" text-anchor="end" textLength="14.01" lengthAdjust="spacingAndGlyphs" stroke="#222" stroke-width="0.16">4000</text>
<line x1="36.60" y1="487.45" x2="39.60" y2="487.45" stroke="#111" stroke-width="0.9"/>
<text x="33.80" y="489.75" font-size="6.7" fill="#222" text-anchor="end" textLength="14.01" lengthAdjust="spacingAndGlyphs" stroke="#222" stroke-width="0.16">2000</text>
<line x1="36.60" y1="498.32" x2="39.60" y2="498.32" stroke="#111" stroke-width="0.9"/>
<text x="33.80" y="500.62" font-size="6.7" fill="#222" text-anchor="end" textLength="10.51" lengthAdjust="spacingAndGlyphs" stroke="#222" stroke-width="0.16">710</text>
<line x1="36.60" y1="504.30" x2="39.60" y2="504.30" stroke="#111" stroke-width="0.9"/>
<text x="33.80" y="506.60" font-size="6.7" fill="#222" text-anchor="end" textLength="3.50" lengthAdjust="spacingAndGlyphs" stroke="#222" stroke-width="0.16">0</text>
<line x1="37.10" y1="504.30" x2="153.90" y2="504.30" stroke="#111" stroke-width="1.1"/>
<line x1="39.60" y1="504.30" x2="39.60" y2="506.60" stroke="#111" stroke-width="0.9"/>
<text x="39.60" y="515.70" font-size="6.7" fill="#222" text-anchor="middle" textLength="3.50" lengthAdjust="spacingAndGlyphs" stroke="#222" stroke-width="0.16">0</text>
<line x1="58.89" y1="504.30" x2="58.89" y2="506.60" stroke="#111" stroke-width="0.9"/>
<text x="58.89" y="515.70" font-size="6.7" fill="#222" text-anchor="middle" textLength="3.50" lengthAdjust="spacingAndGlyphs" stroke="#222" stroke-width="0.16">3</text>
<line x1="78.18" y1="504.30" x2="78.18" y2="506.60" stroke="#111" stroke-width="0.9"/>
<text x="78.18" y="515.70" font-size="6.7" fill="#222" text-anchor="middle" textLength="3.50" lengthAdjust="spacingAndGlyphs" stroke="#222" stroke-width="0.16">6</text>
<line x1="97.47" y1="504.30" x2="97.47" y2="506.60" stroke="#111" stroke-width="0.9"/>
<text x="97.47" y="515.70" font-size="6.7" fill="#222" text-anchor="middle" textLength="3.50" lengthAdjust="spacingAndGlyphs" stroke="#222" stroke-width="0.16">9</text>
<line x1="116.76" y1="504.30" x2="116.76" y2="506.60" stroke="#111" stroke-width="0.9"/>
<text x="116.76" y="515.70" font-size="6.7" fill="#222" text-anchor="middle" textLength="7.00" lengthAdjust="spacingAndGlyphs" stroke="#222" stroke-width="0.16">12</text>
<line x1="136.05" y1="504.30" x2="136.05" y2="506.60" stroke="#111" stroke-width="0.9"/>
<text x="136.05" y="515.70" font-size="6.7" fill="#222" text-anchor="middle" textLength="7.00" lengthAdjust="spacingAndGlyphs" stroke="#222" stroke-width="0.16">15</text>
<text x="96.60" y="428.20" font-size="8.6" fill="#1a1a1a" text-anchor="middle" textLength="25" lengthAdjust="spacingAndGlyphs" stroke="#1a1a1a" stroke-width="0.1">sCD25</text>
<text x="96.80" y="527.80" font-size="8.4" fill="#222" text-anchor="middle" textLength="19" lengthAdjust="spacingAndGlyphs" stroke="#222" stroke-width="0.1">Weeks</text>
<text x="13.60" y="469.40" font-size="8.0" fill="#222" text-anchor="middle" textLength="39.7" lengthAdjust="spacingAndGlyphs" transform="rotate(-90 13.60 469.40)" stroke="#222" stroke-width="0.1">sCD25 (U/ml)</text>
<line x1="41.10" y1="498.32" x2="153.90" y2="498.32" stroke="#222" stroke-width="0.85" stroke-dasharray="0.9,1.05"/>
<line x1="211.20" y1="434.40" x2="211.20" y2="505.30" stroke="#111" stroke-width="1.1"/>
<line x1="208.20" y1="436.70" x2="211.20" y2="436.70" stroke="#111" stroke-width="0.9"/>
<text x="205.40" y="439.00" font-size="6.7" fill="#222" text-anchor="end" textLength="14.01" lengthAdjust="spacingAndGlyphs" stroke="#222" stroke-width="0.16">5000</text>
<line x1="208.20" y1="450.32" x2="211.20" y2="450.32" stroke="#111" stroke-width="0.9"/>
<text x="205.40" y="452.62" font-size="6.7" fill="#222" text-anchor="end" textLength="14.01" lengthAdjust="spacingAndGlyphs" stroke="#222" stroke-width="0.16">4000</text>
<line x1="208.20" y1="463.94" x2="211.20" y2="463.94" stroke="#111" stroke-width="0.9"/>
<text x="205.40" y="466.24" font-size="6.7" fill="#222" text-anchor="end" textLength="14.01" lengthAdjust="spacingAndGlyphs" stroke="#222" stroke-width="0.16">3000</text>
<line x1="208.20" y1="477.56" x2="211.20" y2="477.56" stroke="#111" stroke-width="0.9"/>
<text x="205.40" y="479.86" font-size="6.7" fill="#222" text-anchor="end" textLength="14.01" lengthAdjust="spacingAndGlyphs" stroke="#222" stroke-width="0.16">2000</text>
<line x1="208.20" y1="491.18" x2="211.20" y2="491.18" stroke="#111" stroke-width="0.9"/>
<text x="205.40" y="493.48" font-size="6.7" fill="#222" text-anchor="end" textLength="14.01" lengthAdjust="spacingAndGlyphs" stroke="#222" stroke-width="0.16">1000</text>
<line x1="208.20" y1="500.22" x2="211.20" y2="500.22" stroke="#111" stroke-width="0.9"/>
<text x="205.40" y="501.52" font-size="6.7" fill="#222" text-anchor="end" textLength="10.51" lengthAdjust="spacingAndGlyphs" stroke="#222" stroke-width="0.16">336</text>
<line x1="208.20" y1="504.80" x2="211.20" y2="504.80" stroke="#111" stroke-width="0.9"/>
<text x="205.40" y="507.10" font-size="6.7" fill="#222" text-anchor="end" textLength="3.50" lengthAdjust="spacingAndGlyphs" stroke="#222" stroke-width="0.16">0</text>
<line x1="208.70" y1="504.80" x2="326.60" y2="504.80" stroke="#111" stroke-width="1.1"/>
<line x1="211.20" y1="504.80" x2="211.20" y2="507.10" stroke="#111" stroke-width="0.9"/>
<text x="211.20" y="516.20" font-size="6.7" fill="#222" text-anchor="middle" textLength="3.50" lengthAdjust="spacingAndGlyphs" stroke="#222" stroke-width="0.16">0</text>
<line x1="230.55" y1="504.80" x2="230.55" y2="507.10" stroke="#111" stroke-width="0.9"/>
<text x="230.55" y="516.20" font-size="6.7" fill="#222" text-anchor="middle" textLength="3.50" lengthAdjust="spacingAndGlyphs" stroke="#222" stroke-width="0.16">3</text>
<line x1="249.90" y1="504.80" x2="249.90" y2="507.10" stroke="#111" stroke-width="0.9"/>
<text x="249.90" y="516.20" font-size="6.7" fill="#222" text-anchor="middle" textLength="3.50" lengthAdjust="spacingAndGlyphs" stroke="#222" stroke-width="0.16">6</text>
<line x1="269.25" y1="504.80" x2="269.25" y2="507.10" stroke="#111" stroke-width="0.9"/>
<text x="269.25" y="516.20" font-size="6.7" fill="#222" text-anchor="middle" textLength="3.50" lengthAdjust="spacingAndGlyphs" stroke="#222" stroke-width="0.16">9</text>
<line x1="288.60" y1="504.80" x2="288.60" y2="507.10" stroke="#111" stroke-width="0.9"/>
<text x="288.60" y="516.20" font-size="6.7" fill="#222" text-anchor="middle" textLength="7.00" lengthAdjust="spacingAndGlyphs" stroke="#222" stroke-width="0.16">12</text>
<line x1="307.95" y1="504.80" x2="307.95" y2="507.10" stroke="#111" stroke-width="0.9"/>
<text x="307.95" y="516.20" font-size="6.7" fill="#222" text-anchor="middle" textLength="7.00" lengthAdjust="spacingAndGlyphs" stroke="#222" stroke-width="0.16">15</text>
<text x="268.90" y="428.40" font-size="8.6" fill="#1a1a1a" text-anchor="middle" textLength="26.2" lengthAdjust="spacingAndGlyphs" stroke="#1a1a1a" stroke-width="0.1">Ferritin</text>
<text x="269.00" y="527.80" font-size="8.4" fill="#222" text-anchor="middle" textLength="19" lengthAdjust="spacingAndGlyphs" stroke="#222" stroke-width="0.1">Weeks</text>
<text x="185.60" y="469.35" font-size="8.0" fill="#222" text-anchor="middle" textLength="45.3" lengthAdjust="spacingAndGlyphs" transform="rotate(-90 185.60 469.35)" stroke="#222" stroke-width="0.1">Ferritin (ng/ml)</text>
<line x1="212.70" y1="500.22" x2="326.60" y2="500.22" stroke="#222" stroke-width="0.85" stroke-dasharray="0.9,1.05"/>
<line x1="391.00" y1="459.10" x2="406.60" y2="459.10" stroke="#8ea4cc" stroke-width="1.2"/>
<circle cx="398.80" cy="459.10" r="1.3" fill="#1d3c7c"/>
<text x="410.20" y="461.50" font-size="6.9" fill="#1a1a1a" textLength="24.6" lengthAdjust="spacingAndGlyphs" stroke="#1a1a1a" stroke-width="0.1">Patient 1</text>
<line x1="391.00" y1="469.30" x2="406.60" y2="469.30" stroke="#cc4866" stroke-width="1.2"/>
<circle cx="398.80" cy="469.30" r="1.3" fill="#a80c34"/>
<text x="410.20" y="471.70" font-size="6.9" fill="#1a1a1a" textLength="24.6" lengthAdjust="spacingAndGlyphs" stroke="#1a1a1a" stroke-width="0.1">Patient 2</text>
<line x1="391.00" y1="478.90" x2="406.60" y2="478.90" stroke="#f4c488" stroke-width="1.2"/>
<circle cx="398.80" cy="478.90" r="1.0" fill="#e48a14"/>
<text x="410.20" y="481.30" font-size="6.9" fill="#1a1a1a" textLength="24.6" lengthAdjust="spacingAndGlyphs" stroke="#1a1a1a" stroke-width="0.1">Patient 7</text>
<line x1="441.50" y1="459.10" x2="457.10" y2="459.10" stroke="#8ed080" stroke-width="1.2"/>
<path d="M448.00,460.10 L450.60,460.10 L449.30,457.80 Z" fill="#48aa38"/>
<text x="460.70" y="461.50" font-size="6.9" fill="#1a1a1a" textLength="24.6" lengthAdjust="spacingAndGlyphs" stroke="#1a1a1a" stroke-width="0.1">Patient 3</text>
<line x1="441.50" y1="469.30" x2="457.10" y2="469.30" stroke="#b2b0ea" stroke-width="1.2"/>
<path d="M448.00,468.30 L450.60,468.30 L449.30,470.60 Z" fill="#7f7bd6"/>
<text x="460.70" y="471.70" font-size="6.9" fill="#1a1a1a" textLength="24.6" lengthAdjust="spacingAndGlyphs" stroke="#1a1a1a" stroke-width="0.1">Patient 4</text>
<polyline points="40.20,84.20 41.30,69.70 41.90,59.70 42.50,55.80 43.00,60.20 43.60,55.20 44.10,48.50 44.90,44.60 45.80,48.50 46.40,47.40 46.70,67.50 46.90,89.80 47.80,80.90 48.60,83.10 49.20,79.20 50.30,82.00 51.20,79.80 52.30,79.80 53.10,84.20 54.50,60.20 55.30,88.10 56.10,48.50 57.00,53.00 57.90,60.80 58.30,69.70 59.20,59.70 59.40,78.60 60.30,72.50 61.40,73.60 62.00,76.40 62.80,79.20 63.70,83.70 96.30,89.30" fill="none" stroke="#3f475a" stroke-width="0.9" stroke-linejoin="round"/>
<rect x="39.50" y="83.50" width="1.4" height="1.4" fill="#2c3345"/>
<rect x="40.60" y="69.00" width="1.4" height="1.4" fill="#2c3345"/>
<rect x="41.80" y="55.10" width="1.4" height="1.4" fill="#2c3345"/>
<rect x="44.20" y="43.90" width="1.4" height="1.4" fill="#2c3345"/>
<rect x="45.70" y="46.70" width="1.4" height="1.4" fill="#2c3345"/>
<rect x="46.20" y="89.10" width="1.4" height="1.4" fill="#2c3345"/>
<rect x="47.90" y="82.40" width="1.4" height="1.4" fill="#2c3345"/>
<rect x="49.60" y="81.30" width="1.4" height="1.4" fill="#2c3345"/>
<rect x="51.60" y="79.10" width="1.4" height="1.4" fill="#2c3345"/>
<rect x="52.40" y="83.50" width="1.4" height="1.4" fill="#2c3345"/>
<rect x="53.80" y="59.50" width="1.4" height="1.4" fill="#2c3345"/>
<rect x="54.60" y="87.40" width="1.4" height="1.4" fill="#2c3345"/>
<rect x="55.40" y="47.80" width="1.4" height="1.4" fill="#2c3345"/>
<rect x="57.20" y="60.10" width="1.4" height="1.4" fill="#2c3345"/>
<rect x="58.70" y="77.90" width="1.4" height="1.4" fill="#2c3345"/>
<rect x="60.70" y="72.90" width="1.4" height="1.4" fill="#2c3345"/>
<rect x="62.10" y="78.50" width="1.4" height="1.4" fill="#2c3345"/>
<rect x="63.00" y="83.00" width="1.4" height="1.4" fill="#2c3345"/>
<rect x="95.60" y="88.60" width="1.4" height="1.4" fill="#2c3345"/>
<polyline points="38.60,57.40 41.30,54.60 43.00,47.40 44.10,46.80 44.70,48.50 48.60,76.40 52.00,66.40 57.50,65.80 62.00,65.00 79.80,64.00 98.10,75.60" fill="none" stroke="#4a9de2" stroke-width="1.1" stroke-linejoin="round" stroke-dasharray="3.6,1.9"/>
<path d="M41.30,53.10 L42.80,54.60 L41.30,56.10 L39.80,54.60 Z" fill="#4a9de2"/>
<path d="M43.00,45.90 L44.50,47.40 L43.00,48.90 L41.50,47.40 Z" fill="#4a9de2"/>
<path d="M44.70,47.00 L46.20,48.50 L44.70,50.00 L43.20,48.50 Z" fill="#4a9de2"/>
<path d="M48.60,74.90 L50.10,76.40 L48.60,77.90 L47.10,76.40 Z" fill="#4a9de2"/>
<path d="M52.00,64.90 L53.50,66.40 L52.00,67.90 L50.50,66.40 Z" fill="#4a9de2"/>
<path d="M57.50,64.30 L59.00,65.80 L57.50,67.30 L56.00,65.80 Z" fill="#4a9de2"/>
<path d="M62.00,63.50 L63.50,65.00 L62.00,66.50 L60.50,65.00 Z" fill="#4a9de2"/>
<path d="M79.80,62.50 L81.30,64.00 L79.80,65.50 L78.30,64.00 Z" fill="#4a9de2"/>
<path d="M98.10,74.10 L99.60,75.60 L98.10,77.10 L96.60,75.60 Z" fill="#4a9de2"/>
<polyline points="103.60,88.30 112.60,86.80" fill="none" stroke="#3f475a" stroke-width="1.0" stroke-linejoin="round"/>
<polyline points="112.60,86.80 121.40,86.80" fill="none" stroke="#5d6576" stroke-width="1.4" stroke-linejoin="round"/>
<polyline points="125.60,86.80 143.50,86.80" fill="none" stroke="#5d6576" stroke-width="1.4" stroke-linejoin="round"/>
<rect x="111.85" y="86.05" width="1.5" height="1.5" fill="#2c3345"/>
<rect x="132.75" y="86.05" width="1.5" height="1.5" fill="#2c3345"/>
<polyline points="103.60,50.00 110.10,47.20 119.80,53.60" fill="none" stroke="#4a9de2" stroke-width="1.1" stroke-linejoin="round" stroke-dasharray="3.6,1.9"/>
<path d="M110.10,45.70 L111.60,47.20 L110.10,48.70 L108.60,47.20 Z" fill="#4a9de2"/>
<polyline points="126.30,57.30 132.00,60.40" fill="none" stroke="#4a9de2" stroke-width="1.1" stroke-linejoin="round" stroke-dasharray="3.6,1.9"/>
<path d="M132.00,58.90 L133.50,60.40 L132.00,61.90 L130.50,60.40 Z" fill="#4a9de2"/>
<line x1="43.80" y1="37.20" x2="43.80" y2="41.40" stroke="#c41a48" stroke-width="1.15"/>
<path d="M42.05,40.80 L45.55,40.80 L43.80,44.60 Z" fill="#a80a34"/>
<line x1="58.20" y1="44.70" x2="58.20" y2="50.40" stroke="#c41a48" stroke-width="1.15"/>
<path d="M56.45,49.80 L59.95,49.80 L58.20,53.60 Z" fill="#a80a34"/>
<line x1="96.30" y1="44.70" x2="96.30" y2="50.40" stroke="#c41a48" stroke-width="1.15"/>
<path d="M94.55,49.80 L98.05,49.80 L96.30,53.60 Z" fill="#a80a34"/>
<line x1="112.10" y1="44.70" x2="112.10" y2="50.40" stroke="#c41a48" stroke-width="1.15"/>
<path d="M110.35,49.80 L113.85,49.80 L112.10,53.60 Z" fill="#a80a34"/>
<line x1="132.30" y1="44.70" x2="132.30" y2="50.40" stroke="#c41a48" stroke-width="1.15"/>
<path d="M130.55,49.80 L134.05,49.80 L132.30,53.60 Z" fill="#a80a34"/>
<polyline points="211.60,67.20 212.70,50.60 213.70,53.10 214.70,51.20 215.20,69.70 215.90,52.50 216.80,48.80 217.60,44.50 218.40,42.60 219.20,46.30 220.10,88.10 220.80,48.80 222.10,48.80 222.30,83.20 222.90,69.70 223.50,83.20 224.50,85.70 225.00,88.10 226.00,86.90 226.40,92.40 227.20,76.40 227.80,85.70 228.50,88.10 229.10,81.40 230.30,80.70 231.50,82.60 232.80,79.50 233.60,80.10 234.60,76.40 235.60,81.40 235.80,85.70 246.40,85.70 246.40,81.80 258.30,87.80 268.80,85.40 288.30,86.50 303.40,86.50 316.50,87.80" fill="none" stroke="#3f475a" stroke-width="0.9" stroke-linejoin="round"/>
<rect x="212.00" y="49.90" width="1.4" height="1.4" fill="#2c3345"/>
<rect x="214.50" y="69.00" width="1.4" height="1.4" fill="#2c3345"/>
<rect x="217.70" y="41.90" width="1.4" height="1.4" fill="#2c3345"/>
<rect x="219.40" y="87.40" width="1.4" height="1.4" fill="#2c3345"/>
<rect x="220.10" y="48.10" width="1.4" height="1.4" fill="#2c3345"/>
<rect x="222.20" y="69.00" width="1.4" height="1.4" fill="#2c3345"/>
<rect x="222.80" y="82.50" width="1.4" height="1.4" fill="#2c3345"/>
<rect x="224.30" y="87.40" width="1.4" height="1.4" fill="#2c3345"/>
<rect x="225.70" y="91.70" width="1.4" height="1.4" fill="#2c3345"/>
<rect x="226.50" y="75.70" width="1.4" height="1.4" fill="#2c3345"/>
<rect x="227.80" y="87.40" width="1.4" height="1.4" fill="#2c3345"/>
<rect x="233.90" y="75.70" width="1.4" height="1.4" fill="#2c3345"/>
<rect x="245.70" y="81.10" width="1.4" height="1.4" fill="#2c3345"/>
<rect x="257.60" y="87.10" width="1.4" height="1.4" fill="#2c3345"/>
<rect x="268.10" y="84.70" width="1.4" height="1.4" fill="#2c3345"/>
<rect x="287.60" y="85.80" width="1.4" height="1.4" fill="#2c3345"/>
<rect x="302.70" y="85.80" width="1.4" height="1.4" fill="#2c3345"/>
<polyline points="210.60,45.70 213.40,36.70 216.20,43.20 219.80,52.50 222.90,59.20 226.60,67.00 231.50,71.50 235.20,75.80 239.50,80.10 246.20,86.00 258.30,87.80 275.30,90.00 289.00,89.40 306.30,104.10 316.50,99.10" fill="none" stroke="#4a9de2" stroke-width="1.1" stroke-linejoin="round" stroke-dasharray="3.6,1.9"/>
<path d="M213.40,35.20 L214.90,36.70 L213.40,38.20 L211.90,36.70 Z" fill="#4a9de2"/>
<path d="M226.60,65.50 L228.10,67.00 L226.60,68.50 L225.10,67.00 Z" fill="#4a9de2"/>
<path d="M246.20,84.50 L247.70,86.00 L246.20,87.50 L244.70,86.00 Z" fill="#4a9de2"/>
<path d="M258.30,86.30 L259.80,87.80 L258.30,89.30 L256.80,87.80 Z" fill="#4a9de2"/>
<path d="M275.30,88.50 L276.80,90.00 L275.30,91.50 L273.80,90.00 Z" fill="#4a9de2"/>
<path d="M289.00,87.90 L290.50,89.40 L289.00,90.90 L287.50,89.40 Z" fill="#4a9de2"/>
<path d="M306.30,102.60 L307.80,104.10 L306.30,105.60 L304.80,104.10 Z" fill="#4a9de2"/>
<line x1="215.60" y1="45.20" x2="215.60" y2="50.60" stroke="#c41a48" stroke-width="1.15"/>
<path d="M213.85,50.00 L217.35,50.00 L215.60,53.80 Z" fill="#a80a34"/>
<line x1="229.40" y1="45.20" x2="229.40" y2="50.60" stroke="#c41a48" stroke-width="1.15"/>
<path d="M227.65,50.00 L231.15,50.00 L229.40,53.80 Z" fill="#a80a34"/>
<line x1="246.20" y1="45.20" x2="246.20" y2="50.60" stroke="#c41a48" stroke-width="1.15"/>
<path d="M244.45,50.00 L247.95,50.00 L246.20,53.80 Z" fill="#a80a34"/>
<line x1="268.80" y1="45.20" x2="268.80" y2="50.60" stroke="#c41a48" stroke-width="1.15"/>
<path d="M267.05,50.00 L270.55,50.00 L268.80,53.80 Z" fill="#a80a34"/>
<line x1="288.30" y1="45.20" x2="288.30" y2="50.60" stroke="#c41a48" stroke-width="1.15"/>
<path d="M286.55,50.00 L290.05,50.00 L288.30,53.80 Z" fill="#a80a34"/>
<line x1="303.20" y1="45.20" x2="303.20" y2="50.60" stroke="#c41a48" stroke-width="1.15" stroke-dasharray="1.6,1.2"/>
<path d="M301.45,50.00 L304.95,50.00 L303.20,53.80 Z" fill="#a80a34"/>
<polyline points="380.70,66.00 381.20,52.50 381.90,53.20 382.50,62.20 383.00,58.30 383.60,60.50 384.10,46.50 384.90,39.30 386.00,43.20 386.70,40.40 387.50,43.70 388.10,63.80 389.00,63.80 389.20,83.40 390.10,84.00 391.20,81.20 392.50,82.80 394.50,86.70 395.30,76.10 395.70,83.40 396.40,82.80 398.10,86.70 399.80,84.50 408.00,82.30 429.40,82.90 448.60,86.80" fill="none" stroke="#3f475a" stroke-width="0.9" stroke-linejoin="round"/>
<rect x="381.20" y="52.50" width="1.4" height="1.4" fill="#2c3345"/>
<rect x="381.80" y="61.50" width="1.4" height="1.4" fill="#2c3345"/>
<rect x="382.90" y="59.80" width="1.4" height="1.4" fill="#2c3345"/>
<rect x="384.20" y="38.60" width="1.4" height="1.4" fill="#2c3345"/>
<rect x="386.00" y="39.70" width="1.4" height="1.4" fill="#2c3345"/>
<rect x="387.40" y="63.10" width="1.4" height="1.4" fill="#2c3345"/>
<rect x="389.40" y="83.30" width="1.4" height="1.4" fill="#2c3345"/>
<rect x="391.80" y="82.10" width="1.4" height="1.4" fill="#2c3345"/>
<rect x="393.80" y="86.00" width="1.4" height="1.4" fill="#2c3345"/>
<rect x="394.60" y="75.40" width="1.4" height="1.4" fill="#2c3345"/>
<rect x="397.40" y="86.00" width="1.4" height="1.4" fill="#2c3345"/>
<rect x="407.30" y="81.60" width="1.4" height="1.4" fill="#2c3345"/>
<rect x="428.70" y="82.20" width="1.4" height="1.4" fill="#2c3345"/>
<rect x="447.90" y="86.10" width="1.4" height="1.4" fill="#2c3345"/>
<polyline points="448.60,86.80 485.00,86.80" fill="none" stroke="#7d8595" stroke-width="1.3" stroke-linejoin="round"/>
<polyline points="380.70,69.40 382.50,70.50 389.20,75.00 395.90,80.00 399.80,80.00 411.00,77.70 415.00,78.90 431.60,84.20 447.90,90.20 480.70,104.20 485.00,104.20" fill="none" stroke="#4a9de2" stroke-width="1.1" stroke-linejoin="round" stroke-dasharray="3.6,1.9"/>
<path d="M382.50,69.00 L384.00,70.50 L382.50,72.00 L381.00,70.50 Z" fill="#4a9de2"/>
<path d="M395.90,78.50 L397.40,80.00 L395.90,81.50 L394.40,80.00 Z" fill="#4a9de2"/>
<path d="M411.00,76.20 L412.50,77.70 L411.00,79.20 L409.50,77.70 Z" fill="#4a9de2"/>
<path d="M431.60,82.70 L433.10,84.20 L431.60,85.70 L430.10,84.20 Z" fill="#4a9de2"/>
<path d="M447.90,88.70 L449.40,90.20 L447.90,91.70 L446.40,90.20 Z" fill="#4a9de2"/>
<path d="M480.70,102.70 L482.20,104.20 L480.70,105.70 L479.20,104.20 Z" fill="#4a9de2"/>
<line x1="387.60" y1="36.80" x2="387.60" y2="39.40" stroke="#c41a48" stroke-width="1.15" stroke-dasharray="1.6,1.2"/>
<path d="M385.85,38.80 L389.35,38.80 L387.60,42.60 Z" fill="#a80a34"/>
<line x1="407.40" y1="45.20" x2="407.40" y2="50.60" stroke="#c41a48" stroke-width="1.15"/>
<path d="M405.65,50.00 L409.15,50.00 L407.40,53.80 Z" fill="#a80a34"/>
<line x1="429.40" y1="45.20" x2="429.40" y2="50.60" stroke="#c41a48" stroke-width="1.15" stroke-dasharray="1.6,1.2"/>
<path d="M427.65,50.00 L431.15,50.00 L429.40,53.80 Z" fill="#a80a34"/>
<polyline points="39.70,197.70 39.70,207.30 40.50,203.50 41.40,201.00 42.20,203.10 43.00,199.30 43.70,205.20 44.00,194.30 44.50,201.90 44.90,209.00 45.50,203.10 46.40,199.80 47.00,207.30 47.60,203.10 49.30,203.10 49.70,186.30 50.60,188.90 51.40,186.80 52.20,199.30 52.90,185.50 53.80,194.30 54.80,178.40 55.60,177.50 56.00,195.10 56.60,208.10 57.30,194.30 57.90,198.90 58.30,209.80 59.00,198.50 60.00,206.00 61.50,201.90 72.40,209.00 72.80,186.70 73.90,177.60 75.10,179.80 75.90,195.00 76.90,176.50 77.90,202.60 78.20,192.80 78.90,203.00 80.40,203.40 81.70,212.50 82.40,203.00 93.00,208.00 106.70,208.00 126.30,202.90 143.30,208.70" fill="none" stroke="#3f475a" stroke-width="0.9" stroke-linejoin="round"/>
<rect x="39.00" y="206.60" width="1.4" height="1.4" fill="#2c3345"/>
<rect x="40.70" y="200.30" width="1.4" height="1.4" fill="#2c3345"/>
<rect x="43.00" y="204.50" width="1.4" height="1.4" fill="#2c3345"/>
<rect x="43.30" y="193.60" width="1.4" height="1.4" fill="#2c3345"/>
<rect x="44.20" y="208.30" width="1.4" height="1.4" fill="#2c3345"/>
<rect x="45.70" y="199.10" width="1.4" height="1.4" fill="#2c3345"/>
<rect x="46.30" y="206.60" width="1.4" height="1.4" fill="#2c3345"/>
<rect x="48.60" y="202.40" width="1.4" height="1.4" fill="#2c3345"/>
<rect x="49.00" y="185.60" width="1.4" height="1.4" fill="#2c3345"/>
<rect x="51.50" y="198.60" width="1.4" height="1.4" fill="#2c3345"/>
<rect x="52.20" y="184.80" width="1.4" height="1.4" fill="#2c3345"/>
<rect x="54.90" y="176.80" width="1.4" height="1.4" fill="#2c3345"/>
<rect x="55.90" y="207.40" width="1.4" height="1.4" fill="#2c3345"/>
<rect x="56.60" y="193.60" width="1.4" height="1.4" fill="#2c3345"/>
<rect x="57.60" y="209.10" width="1.4" height="1.4" fill="#2c3345"/>
<rect x="58.30" y="197.80" width="1.4" height="1.4" fill="#2c3345"/>
<rect x="60.80" y="201.20" width="1.4" height="1.4" fill="#2c3345"/>
<rect x="71.70" y="208.30" width="1.4" height="1.4" fill="#2c3345"/>
<rect x="73.20" y="176.90" width="1.4" height="1.4" fill="#2c3345"/>
<rect x="76.20" y="175.80" width="1.4" height="1.4" fill="#2c3345"/>
<rect x="78.20" y="202.30" width="1.4" height="1.4" fill="#2c3345"/>
<rect x="81.00" y="211.80" width="1.4" height="1.4" fill="#2c3345"/>
<rect x="92.30" y="207.30" width="1.4" height="1.4" fill="#2c3345"/>
<rect x="106.00" y="207.30" width="1.4" height="1.4" fill="#2c3345"/>
<rect x="125.60" y="202.20" width="1.4" height="1.4" fill="#2c3345"/>
<polyline points="39.70,189.30 44.70,184.90 48.90,189.30 50.20,191.00 54.80,195.60 58.10,198.90 61.50,204.40" fill="none" stroke="#4a9de2" stroke-width="1.1" stroke-linejoin="round" stroke-dasharray="3.6,1.9"/>
<path d="M44.70,183.40 L46.20,184.90 L44.70,186.40 L43.20,184.90 Z" fill="#4a9de2"/>
<path d="M61.50,202.90 L63.00,204.40 L61.50,205.90 L60.00,204.40 Z" fill="#4a9de2"/>
<polyline points="66.20,202.20 71.80,199.30 78.20,204.90 93.40,212.50 109.30,226.20 126.80,226.20" fill="none" stroke="#4a9de2" stroke-width="1.1" stroke-linejoin="round" stroke-dasharray="3.6,1.9"/>
<path d="M71.80,197.80 L73.30,199.30 L71.80,200.80 L70.30,199.30 Z" fill="#4a9de2"/>
<path d="M93.40,211.00 L94.90,212.50 L93.40,214.00 L91.90,212.50 Z" fill="#4a9de2"/>
<path d="M109.30,224.70 L110.80,226.20 L109.30,227.70 L107.80,226.20 Z" fill="#4a9de2"/>
<path d="M126.80,224.70 L128.30,226.20 L126.80,227.70 L125.30,226.20 Z" fill="#4a9de2"/>
<line x1="43.50" y1="167.60" x2="43.50" y2="173.20" stroke="#c41a48" stroke-width="1.15"/>
<path d="M41.75,172.60 L45.25,172.60 L43.50,176.40 Z" fill="#a80a34"/>
<line x1="54.00" y1="167.60" x2="54.00" y2="173.20" stroke="#c41a48" stroke-width="1.15"/>
<path d="M52.25,172.60 L55.75,172.60 L54.00,176.40 Z" fill="#a80a34"/>
<line x1="74.10" y1="167.60" x2="74.10" y2="173.20" stroke="#c41a48" stroke-width="1.15"/>
<path d="M72.35,172.60 L75.85,172.60 L74.10,176.40 Z" fill="#a80a34"/>
<line x1="83.50" y1="167.60" x2="83.50" y2="173.20" stroke="#c41a48" stroke-width="1.15"/>
<path d="M81.75,172.60 L85.25,172.60 L83.50,176.40 Z" fill="#a80a34"/>
<line x1="92.90" y1="167.60" x2="92.90" y2="173.20" stroke="#c41a48" stroke-width="1.15"/>
<path d="M91.15,172.60 L94.65,172.60 L92.90,176.40 Z" fill="#a80a34"/>
<line x1="106.70" y1="167.60" x2="106.70" y2="173.20" stroke="#c41a48" stroke-width="1.15"/>
<path d="M104.95,172.60 L108.45,172.60 L106.70,176.40 Z" fill="#a80a34"/>
<line x1="126.30" y1="167.60" x2="126.30" y2="173.20" stroke="#c41a48" stroke-width="1.15" stroke-dasharray="1.6,1.2"/>
<path d="M124.55,172.60 L128.05,172.60 L126.30,176.40 Z" fill="#a80a34"/>
<polyline points="211.50,180.20 212.20,189.40 213.80,210.20 214.80,212.50 217.30,212.50 218.20,209.00 218.80,173.80 220.00,181.30 220.50,184.20 221.50,175.00 221.90,168.10 222.80,173.80 223.80,181.30 224.60,182.50 226.10,176.70 226.90,182.50 227.70,182.50 228.80,186.00 230.30,185.40 230.90,209.00 232.10,207.30 233.20,202.70 233.80,210.20 234.40,216.50 235.30,211.30 235.80,216.50 236.70,209.60 238.40,209.00" fill="none" stroke="#3f475a" stroke-width="0.9" stroke-linejoin="round"/>
<rect x="210.80" y="179.50" width="1.4" height="1.4" fill="#2c3345"/>
<rect x="213.10" y="209.50" width="1.4" height="1.4" fill="#2c3345"/>
<rect x="217.50" y="208.30" width="1.4" height="1.4" fill="#2c3345"/>
<rect x="218.10" y="173.10" width="1.4" height="1.4" fill="#2c3345"/>
<rect x="219.80" y="183.50" width="1.4" height="1.4" fill="#2c3345"/>
<rect x="221.20" y="167.40" width="1.4" height="1.4" fill="#2c3345"/>
<rect x="225.40" y="176.00" width="1.4" height="1.4" fill="#2c3345"/>
<rect x="229.60" y="184.70" width="1.4" height="1.4" fill="#2c3345"/>
<rect x="230.20" y="208.30" width="1.4" height="1.4" fill="#2c3345"/>
<rect x="232.50" y="202.00" width="1.4" height="1.4" fill="#2c3345"/>
<rect x="233.70" y="215.80" width="1.4" height="1.4" fill="#2c3345"/>
<rect x="235.10" y="215.80" width="1.4" height="1.4" fill="#2c3345"/>
<polyline points="238.40,208.90 315.50,208.80" fill="none" stroke="#7a8292" stroke-width="1.4" stroke-linejoin="round"/>
<rect x="259.40" y="208.00" width="1.6" height="1.6" fill="#2c3345"/>
<rect x="294.00" y="208.00" width="1.6" height="1.6" fill="#2c3345"/>
<polyline points="211.90,192.30 222.80,186.50 226.00,188.50 229.80,194.60 236.70,203.80 243.60,206.70 247.20,208.10 294.80,225.70" fill="none" stroke="#4a9de2" stroke-width="1.1" stroke-linejoin="round" stroke-dasharray="3.6,1.9"/>
<path d="M211.90,190.80 L213.40,192.30 L211.90,193.80 L210.40,192.30 Z" fill="#4a9de2"/>
<path d="M222.80,185.00 L224.30,186.50 L222.80,188.00 L221.30,186.50 Z" fill="#4a9de2"/>
<path d="M236.70,202.30 L238.20,203.80 L236.70,205.30 L235.20,203.80 Z" fill="#4a9de2"/>
<path d="M294.80,224.20 L296.30,225.70 L294.80,227.20 L293.30,225.70 Z" fill="#4a9de2"/>
<line x1="217.00" y1="167.30" x2="217.00" y2="173.00" stroke="#c41a48" stroke-width="1.15"/>
<path d="M215.25,172.40 L218.75,172.40 L217.00,176.20 Z" fill="#a80a34"/>
<line x1="238.30" y1="167.30" x2="238.30" y2="173.00" stroke="#c41a48" stroke-width="1.15"/>
<path d="M236.55,172.40 L240.05,172.40 L238.30,176.20 Z" fill="#a80a34"/>
<line x1="259.70" y1="167.30" x2="259.70" y2="173.00" stroke="#c41a48" stroke-width="1.15"/>
<path d="M257.95,172.40 L261.45,172.40 L259.70,176.20 Z" fill="#a80a34"/>
<line x1="294.80" y1="167.30" x2="294.80" y2="173.00" stroke="#c41a48" stroke-width="1.15" stroke-dasharray="1.6,1.2"/>
<path d="M293.05,172.40 L296.55,172.40 L294.80,176.20 Z" fill="#a80a34"/>
<polyline points="39.10,353.10 45.50,320.00 47.90,327.20 53.90,336.00 58.60,318.80 62.50,325.40 90.50,322.30 124.30,322.60" fill="none" stroke="#f2a43c" stroke-width="0.9" stroke-linejoin="round"/>
<circle cx="45.50" cy="320.00" r="1.15" fill="#e48a14"/>
<circle cx="47.90" cy="327.20" r="1.15" fill="#e48a14"/>
<circle cx="53.90" cy="336.00" r="1.15" fill="#e48a14"/>
<circle cx="58.60" cy="318.80" r="1.15" fill="#e48a14"/>
<circle cx="62.50" cy="325.40" r="1.15" fill="#e48a14"/>
<circle cx="90.50" cy="322.30" r="1.15" fill="#e48a14"/>
<polyline points="124.30,322.60 131.00,337.00" fill="none" stroke="#f2a43c" stroke-width="0.9" stroke-linejoin="round" stroke-dasharray="0.8,0.8"/>
<circle cx="131.00" cy="337.00" r="1.15" fill="#e48a14"/>
<polyline points="39.10,361.70 44.40,357.20 47.20,345.00 50.00,338.00 60.40,344.40 69.50,349.60 81.40,350.30 90.50,346.10 110.80,344.10 125.00,344.40" fill="none" stroke="#66bb55" stroke-width="0.85" stroke-linejoin="round"/>
<path d="M48.50,339.10 L51.50,339.10 L50.00,336.50 Z" fill="#48aa38"/>
<path d="M58.90,345.50 L61.90,345.50 L60.40,342.90 Z" fill="#48aa38"/>
<path d="M89.00,347.20 L92.00,347.20 L90.50,344.60 Z" fill="#48aa38"/>
<path d="M109.30,345.20 L112.30,345.20 L110.80,342.60 Z" fill="#48aa38"/>
<polyline points="125.00,344.40 132.40,339.00" fill="none" stroke="#66bb55" stroke-width="0.85" stroke-linejoin="round" stroke-dasharray="0.8,0.8"/>
<polyline points="132.40,339.00 134.40,340.60 137.10,340.10 140.40,337.00 150.30,343.70" fill="none" stroke="#66bb55" stroke-width="0.85" stroke-linejoin="round"/>
<path d="M130.90,340.10 L133.90,340.10 L132.40,337.50 Z" fill="#48aa38"/>
<path d="M132.90,341.70 L135.90,341.70 L134.40,339.10 Z" fill="#48aa38"/>
<path d="M135.60,341.20 L138.60,341.20 L137.10,338.60 Z" fill="#48aa38"/>
<path d="M138.90,338.10 L141.90,338.10 L140.40,335.50 Z" fill="#48aa38"/>
<path d="M148.80,344.80 L151.80,344.80 L150.30,342.20 Z" fill="#48aa38"/>
<polyline points="39.10,351.70 44.40,358.00 48.60,358.40 52.80,359.30 59.00,349.60 70.90,335.60 77.90,357.50 80.70,358.60 84.20,357.00 91.90,350.00 96.40,347.80 114.20,345.80 125.00,347.40" fill="none" stroke="#9793e2" stroke-width="0.8" stroke-linejoin="round"/>
<path d="M47.10,357.30 L50.10,357.30 L48.60,359.90 Z" fill="none" stroke="#7f7bd6" stroke-width="0.6"/>
<path d="M69.40,334.50 L72.40,334.50 L70.90,337.10 Z" fill="none" stroke="#7f7bd6" stroke-width="0.6"/>
<path d="M76.40,356.40 L79.40,356.40 L77.90,359.00 Z" fill="none" stroke="#7f7bd6" stroke-width="0.6"/>
<path d="M82.70,355.90 L85.70,355.90 L84.20,358.50 Z" fill="none" stroke="#7f7bd6" stroke-width="0.6"/>
<path d="M94.90,346.70 L97.90,346.70 L96.40,349.30 Z" fill="none" stroke="#7f7bd6" stroke-width="0.6"/>
<path d="M112.70,344.70 L115.70,344.70 L114.20,347.30 Z" fill="none" stroke="#7f7bd6" stroke-width="0.6"/>
<polyline points="131.00,347.20 136.80,346.80 149.90,343.30" fill="none" stroke="#9793e2" stroke-width="0.8" stroke-linejoin="round"/>
<path d="M135.30,345.70 L138.30,345.70 L136.80,348.30 Z" fill="none" stroke="#7f7bd6" stroke-width="0.6"/>
<path d="M148.40,342.20 L151.40,342.20 L149.90,344.80 Z" fill="none" stroke="#7f7bd6" stroke-width="0.6"/>
<polyline points="39.10,350.00 40.20,354.50 44.40,358.00 47.90,344.40 51.40,347.70 55.30,353.10 58.60,354.70 63.90,360.50 67.40,353.10 72.00,350.50 96.00,353.30 107.20,355.20 125.00,353.80" fill="none" stroke="#5a7cb4" stroke-width="0.85" stroke-linejoin="round"/>
<circle cx="39.10" cy="350.00" r="1.6" fill="#1d3c7c"/>
<circle cx="44.40" cy="358.00" r="1.6" fill="#1d3c7c"/>
<circle cx="47.90" cy="344.40" r="1.6" fill="#1d3c7c"/>
<circle cx="51.40" cy="347.70" r="1.6" fill="#1d3c7c"/>
<circle cx="55.30" cy="353.10" r="1.6" fill="#1d3c7c"/>
<circle cx="58.60" cy="354.70" r="1.6" fill="#1d3c7c"/>
<circle cx="63.90" cy="360.50" r="1.6" fill="#1d3c7c"/>
<circle cx="67.40" cy="353.10" r="1.6" fill="#1d3c7c"/>
<circle cx="72.00" cy="350.50" r="1.6" fill="#1d3c7c"/>
<circle cx="107.20" cy="355.20" r="1.6" fill="#1d3c7c"/>
<polyline points="129.70,352.50 138.40,356.30 159.30,350.20" fill="none" stroke="#5a7cb4" stroke-width="0.85" stroke-linejoin="round"/>
<circle cx="138.40" cy="356.30" r="1.6" fill="#1d3c7c"/>
<polyline points="39.10,359.80 44.10,365.30 46.50,364.20 49.30,345.40 52.80,338.80 56.70,307.00 61.40,329.60 64.90,347.90 69.90,354.00 74.40,356.50 78.60,353.30 98.70,352.50 122.30,356.30 127.60,352.80" fill="none" stroke="#c8284e" stroke-width="0.95" stroke-linejoin="round"/>
<rect x="37.50" y="358.20" width="3.2" height="3.2" fill="#b0103a"/>
<rect x="42.50" y="363.70" width="3.2" height="3.2" fill="#b0103a"/>
<rect x="44.90" y="362.60" width="3.2" height="3.2" fill="#b0103a"/>
<rect x="47.70" y="343.80" width="3.2" height="3.2" fill="#b0103a"/>
<rect x="51.20" y="337.20" width="3.2" height="3.2" fill="#b0103a"/>
<rect x="55.10" y="305.40" width="3.2" height="3.2" fill="#b0103a"/>
<rect x="59.80" y="328.00" width="3.2" height="3.2" fill="#b0103a"/>
<rect x="63.30" y="346.30" width="3.2" height="3.2" fill="#b0103a"/>
<rect x="68.30" y="352.40" width="3.2" height="3.2" fill="#b0103a"/>
<rect x="72.80" y="354.90" width="3.2" height="3.2" fill="#b0103a"/>
<rect x="77.00" y="351.70" width="3.2" height="3.2" fill="#b0103a"/>
<rect x="97.10" y="350.90" width="3.2" height="3.2" fill="#b0103a"/>
<rect x="120.70" y="354.70" width="3.2" height="3.2" fill="#b0103a"/>
<polyline points="127.60,352.80 135.00,350.50 139.10,350.90 148.50,350.90 159.30,347.40" fill="none" stroke="#c8284e" stroke-width="0.95" stroke-linejoin="round"/>
<rect x="133.40" y="348.90" width="3.2" height="3.2" fill="#b0103a"/>
<rect x="137.50" y="349.30" width="3.2" height="3.2" fill="#b0103a"/>
<rect x="146.90" y="349.30" width="3.2" height="3.2" fill="#b0103a"/>
<polyline points="211.40,331.70 212.80,350.10 214.80,354.90 216.40,346.70 220.20,319.80 222.70,316.50 225.40,316.80 242.30,322.90 266.50,319.60 289.30,320.00 295.00,320.30" fill="none" stroke="#f2a43c" stroke-width="0.9" stroke-linejoin="round"/>
<circle cx="211.40" cy="331.70" r="1.15" fill="#e48a14"/>
<circle cx="212.80" cy="350.10" r="1.15" fill="#e48a14"/>
<circle cx="214.80" cy="354.90" r="1.15" fill="#e48a14"/>
<circle cx="216.40" cy="346.70" r="1.15" fill="#e48a14"/>
<circle cx="220.20" cy="319.80" r="1.15" fill="#e48a14"/>
<circle cx="222.70" cy="316.50" r="1.15" fill="#e48a14"/>
<circle cx="225.40" cy="316.80" r="1.15" fill="#e48a14"/>
<circle cx="242.30" cy="322.90" r="1.15" fill="#e48a14"/>
<circle cx="266.50" cy="319.60" r="1.15" fill="#e48a14"/>
<circle cx="295.00" cy="320.30" r="1.15" fill="#e48a14"/>
<polyline points="211.40,357.00 214.10,359.00 215.50,353.80 217.80,341.30 223.60,323.80 225.70,323.30 230.40,327.90 236.80,311.60 242.30,317.40 254.90,319.80 279.80,308.60 288.70,307.00 295.60,306.30 297.90,307.30 300.70,316.50 303.90,318.00 312.50,315.20" fill="none" stroke="#66bb55" stroke-width="0.85" stroke-linejoin="round"/>
<path d="M212.60,360.10 L215.60,360.10 L214.10,357.50 Z" fill="#48aa38"/>
<path d="M214.00,354.90 L217.00,354.90 L215.50,352.30 Z" fill="#48aa38"/>
<path d="M216.30,342.40 L219.30,342.40 L217.80,339.80 Z" fill="#48aa38"/>
<path d="M222.10,324.90 L225.10,324.90 L223.60,322.30 Z" fill="#48aa38"/>
<path d="M224.20,324.40 L227.20,324.40 L225.70,321.80 Z" fill="#48aa38"/>
<path d="M228.90,329.00 L231.90,329.00 L230.40,326.40 Z" fill="#48aa38"/>
<path d="M235.30,312.70 L238.30,312.70 L236.80,310.10 Z" fill="#48aa38"/>
<path d="M240.80,318.50 L243.80,318.50 L242.30,315.90 Z" fill="#48aa38"/>
<path d="M253.40,320.90 L256.40,320.90 L254.90,318.30 Z" fill="#48aa38"/>
<path d="M278.30,309.70 L281.30,309.70 L279.80,307.10 Z" fill="#48aa38"/>
<path d="M294.10,307.40 L297.10,307.40 L295.60,304.80 Z" fill="#48aa38"/>
<path d="M296.40,308.40 L299.40,308.40 L297.90,305.80 Z" fill="#48aa38"/>
<path d="M299.20,317.60 L302.20,317.60 L300.70,315.00 Z" fill="#48aa38"/>
<path d="M302.40,319.10 L305.40,319.10 L303.90,316.50 Z" fill="#48aa38"/>
<path d="M311.00,316.30 L314.00,316.30 L312.50,313.70 Z" fill="#48aa38"/>
<polyline points="211.40,335.50 214.10,335.10 216.20,319.80 219.60,312.40 229.80,340.60 234.50,349.10 238.20,354.90 240.20,350.50 243.10,342.60 246.10,335.10 257.00,328.30 273.90,309.50 291.80,320.30 300.10,319.60 311.50,333.50" fill="none" stroke="#9793e2" stroke-width="0.8" stroke-linejoin="round"/>
<path d="M209.90,334.40 L212.90,334.40 L211.40,337.00 Z" fill="none" stroke="#7f7bd6" stroke-width="0.6"/>
<path d="M212.60,334.00 L215.60,334.00 L214.10,336.60 Z" fill="none" stroke="#7f7bd6" stroke-width="0.6"/>
<path d="M214.70,318.70 L217.70,318.70 L216.20,321.30 Z" fill="none" stroke="#7f7bd6" stroke-width="0.6"/>
<path d="M218.10,311.30 L221.10,311.30 L219.60,313.90 Z" fill="none" stroke="#7f7bd6" stroke-width="0.6"/>
<path d="M233.00,348.00 L236.00,348.00 L234.50,350.60 Z" fill="none" stroke="#7f7bd6" stroke-width="0.6"/>
<path d="M236.70,353.80 L239.70,353.80 L238.20,356.40 Z" fill="none" stroke="#7f7bd6" stroke-width="0.6"/>
<path d="M241.60,341.50 L244.60,341.50 L243.10,344.10 Z" fill="none" stroke="#7f7bd6" stroke-width="0.6"/>
<path d="M255.50,327.20 L258.50,327.20 L257.00,329.80 Z" fill="none" stroke="#7f7bd6" stroke-width="0.6"/>
<path d="M272.40,308.40 L275.40,308.40 L273.90,311.00 Z" fill="none" stroke="#7f7bd6" stroke-width="0.6"/>
<path d="M298.60,318.50 L301.60,318.50 L300.10,321.10 Z" fill="none" stroke="#7f7bd6" stroke-width="0.6"/>
<path d="M310.00,332.40 L313.00,332.40 L311.50,335.00 Z" fill="none" stroke="#7f7bd6" stroke-width="0.6"/>
<polyline points="211.00,357.30 211.80,362.30 214.10,364.70 216.80,363.70 218.90,359.60 220.90,353.80 223.20,348.30 226.40,349.10 228.40,347.40 231.40,352.80 252.90,346.00 271.00,330.10 288.70,330.60 301.30,344.60 321.00,338.20" fill="none" stroke="#5a7cb4" stroke-width="0.85" stroke-linejoin="round"/>
<circle cx="211.00" cy="357.30" r="1.6" fill="#1d3c7c"/>
<circle cx="214.10" cy="364.70" r="1.6" fill="#1d3c7c"/>
<circle cx="216.80" cy="363.70" r="1.6" fill="#1d3c7c"/>
<circle cx="218.90" cy="359.60" r="1.6" fill="#1d3c7c"/>
<circle cx="220.90" cy="353.80" r="1.6" fill="#1d3c7c"/>
<circle cx="223.20" cy="348.30" r="1.6" fill="#1d3c7c"/>
<circle cx="226.40" cy="349.10" r="1.6" fill="#1d3c7c"/>
<circle cx="228.40" cy="347.40" r="1.6" fill="#1d3c7c"/>
<circle cx="231.40" cy="352.80" r="1.6" fill="#1d3c7c"/>
<circle cx="252.90" cy="346.00" r="1.6" fill="#1d3c7c"/>
<circle cx="271.00" cy="330.10" r="1.6" fill="#1d3c7c"/>
<circle cx="301.30" cy="344.60" r="1.6" fill="#1d3c7c"/>
<polyline points="211.00,362.30 213.40,365.70 216.80,365.00 219.60,362.30 221.60,360.60 224.30,350.80 226.40,345.60 229.50,342.60 232.50,341.30 234.90,336.50 247.50,337.20 262.10,337.40 273.90,316.50 282.40,331.00 294.40,341.10 298.80,339.20 302.60,342.40 311.20,343.30 321.00,339.20" fill="none" stroke="#c8284e" stroke-width="0.95" stroke-linejoin="round"/>
<rect x="209.40" y="360.70" width="3.2" height="3.2" fill="#b0103a"/>
<rect x="218.00" y="360.70" width="3.2" height="3.2" fill="#b0103a"/>
<rect x="220.00" y="359.00" width="3.2" height="3.2" fill="#b0103a"/>
<rect x="222.70" y="349.20" width="3.2" height="3.2" fill="#b0103a"/>
<rect x="224.80" y="344.00" width="3.2" height="3.2" fill="#b0103a"/>
<rect x="227.90" y="341.00" width="3.2" height="3.2" fill="#b0103a"/>
<rect x="230.90" y="339.70" width="3.2" height="3.2" fill="#b0103a"/>
<rect x="233.30" y="334.90" width="3.2" height="3.2" fill="#b0103a"/>
<rect x="245.90" y="335.60" width="3.2" height="3.2" fill="#b0103a"/>
<rect x="260.50" y="335.80" width="3.2" height="3.2" fill="#b0103a"/>
<rect x="272.30" y="314.90" width="3.2" height="3.2" fill="#b0103a"/>
<rect x="280.80" y="329.40" width="3.2" height="3.2" fill="#b0103a"/>
<rect x="297.20" y="337.60" width="3.2" height="3.2" fill="#b0103a"/>
<rect x="301.00" y="340.80" width="3.2" height="3.2" fill="#b0103a"/>
<rect x="309.60" y="341.70" width="3.2" height="3.2" fill="#b0103a"/>
<polyline points="380.50,334.40 382.40,337.30 385.60,338.60 389.60,334.80 392.60,333.20 395.10,331.00 411.50,324.10 435.90,321.80 456.80,322.80 464.70,323.50" fill="none" stroke="#f2a43c" stroke-width="0.9" stroke-linejoin="round"/>
<circle cx="380.50" cy="334.40" r="1.15" fill="#e48a14"/>
<circle cx="385.60" cy="338.60" r="1.15" fill="#e48a14"/>
<circle cx="389.60" cy="334.80" r="1.15" fill="#e48a14"/>
<circle cx="411.50" cy="324.10" r="1.15" fill="#e48a14"/>
<circle cx="435.90" cy="321.80" r="1.15" fill="#e48a14"/>
<circle cx="464.70" cy="323.50" r="1.15" fill="#e48a14"/>
<polyline points="380.50,341.80 381.80,338.60 383.70,334.20 385.60,333.20 387.10,331.00 388.80,324.70 390.70,329.10 392.60,328.90 394.50,332.70 398.30,336.70 402.00,329.10 408.40,328.50 416.00,327.20 417.90,332.90 419.10,337.30 421.00,336.70 422.60,340.50 425.50,333.90 428.60,332.30 439.10,329.20 457.50,325.50" fill="none" stroke="#9793e2" stroke-width="0.8" stroke-linejoin="round"/>
<path d="M382.20,333.10 L385.20,333.10 L383.70,335.70 Z" fill="none" stroke="#7f7bd6" stroke-width="0.6"/>
<path d="M387.30,323.60 L390.30,323.60 L388.80,326.20 Z" fill="none" stroke="#7f7bd6" stroke-width="0.6"/>
<path d="M400.50,328.00 L403.50,328.00 L402.00,330.60 Z" fill="none" stroke="#7f7bd6" stroke-width="0.6"/>
<path d="M419.50,335.60 L422.50,335.60 L421.00,338.20 Z" fill="none" stroke="#7f7bd6" stroke-width="0.6"/>
<path d="M424.00,332.80 L427.00,332.80 L425.50,335.40 Z" fill="none" stroke="#7f7bd6" stroke-width="0.6"/>
<polyline points="464.40,323.30 482.20,318.80 489.80,313.70" fill="none" stroke="#9793e2" stroke-width="0.8" stroke-linejoin="round"/>
<path d="M480.70,317.70 L483.70,317.70 L482.20,320.30 Z" fill="none" stroke="#7f7bd6" stroke-width="0.6"/>
<polyline points="380.50,344.90 383.70,348.10 385.60,344.90 389.40,343.00 391.90,340.30 395.70,343.70 398.90,337.70 407.10,331.60 416.00,328.10 424.80,326.60 449.90,323.50 459.40,324.70 465.70,327.90 468.00,326.00 470.50,328.90 473.30,327.70 481.60,327.30" fill="none" stroke="#66bb55" stroke-width="0.85" stroke-linejoin="round"/>
<path d="M379.00,346.00 L382.00,346.00 L380.50,343.40 Z" fill="#48aa38"/>
<path d="M394.20,344.80 L397.20,344.80 L395.70,342.20 Z" fill="#48aa38"/>
<path d="M397.40,338.80 L400.40,338.80 L398.90,336.20 Z" fill="#48aa38"/>
<path d="M405.60,332.70 L408.60,332.70 L407.10,330.10 Z" fill="#48aa38"/>
<path d="M414.50,329.20 L417.50,329.20 L416.00,326.60 Z" fill="#48aa38"/>
<path d="M423.30,327.70 L426.30,327.70 L424.80,325.10 Z" fill="#48aa38"/>
<path d="M464.20,329.00 L467.20,329.00 L465.70,326.40 Z" fill="#48aa38"/>
<path d="M466.50,327.10 L469.50,327.10 L468.00,324.50 Z" fill="#48aa38"/>
<path d="M469.00,330.00 L472.00,330.00 L470.50,327.40 Z" fill="#48aa38"/>
<path d="M471.80,328.80 L474.80,328.80 L473.30,326.20 Z" fill="#48aa38"/>
<path d="M480.10,328.40 L483.10,328.40 L481.60,325.80 Z" fill="#48aa38"/>
<polyline points="380.50,348.40 381.80,350.60 383.70,354.20 385.60,346.80 388.80,344.60 390.70,339.20 393.80,334.40 396.40,337.30 398.90,341.10 401.40,337.30 404.60,332.70 416.60,327.20 431.40,326.80 443.10,316.50 451.50,321.30 457.50,321.60 463.80,318.40 468.00,320.00 471.80,316.20 480.70,318.80 487.30,315.50" fill="none" stroke="#c8284e" stroke-width="0.95" stroke-linejoin="round"/>
<rect x="378.90" y="346.80" width="3.2" height="3.2" fill="#b0103a"/>
<rect x="382.10" y="352.60" width="3.2" height="3.2" fill="#b0103a"/>
<rect x="387.20" y="343.00" width="3.2" height="3.2" fill="#b0103a"/>
<rect x="389.10" y="337.60" width="3.2" height="3.2" fill="#b0103a"/>
<rect x="392.20" y="332.80" width="3.2" height="3.2" fill="#b0103a"/>
<rect x="394.80" y="335.70" width="3.2" height="3.2" fill="#b0103a"/>
<rect x="397.30" y="339.50" width="3.2" height="3.2" fill="#b0103a"/>
<rect x="399.80" y="335.70" width="3.2" height="3.2" fill="#b0103a"/>
<rect x="403.00" y="331.10" width="3.2" height="3.2" fill="#b0103a"/>
<rect x="415.00" y="325.60" width="3.2" height="3.2" fill="#b0103a"/>
<rect x="429.80" y="325.20" width="3.2" height="3.2" fill="#b0103a"/>
<rect x="441.50" y="314.90" width="3.2" height="3.2" fill="#b0103a"/>
<rect x="449.90" y="319.70" width="3.2" height="3.2" fill="#b0103a"/>
<rect x="466.40" y="318.40" width="3.2" height="3.2" fill="#b0103a"/>
<rect x="470.20" y="314.60" width="3.2" height="3.2" fill="#b0103a"/>
<rect x="479.10" y="317.20" width="3.2" height="3.2" fill="#b0103a"/>
<polyline points="380.50,346.80 381.20,354.20 383.70,344.90 385.80,350.00 388.10,343.70 390.70,341.80 392.60,341.10 395.70,347.50 397.60,343.70 400.80,346.20 421.70,330.10 440.60,326.00 471.40,320.30 489.80,313.30" fill="none" stroke="#5a7cb4" stroke-width="0.85" stroke-linejoin="round"/>
<circle cx="380.50" cy="346.80" r="1.6" fill="#1d3c7c"/>
<circle cx="381.20" cy="354.20" r="1.6" fill="#1d3c7c"/>
<circle cx="383.70" cy="344.90" r="1.6" fill="#1d3c7c"/>
<circle cx="385.80" cy="350.00" r="1.6" fill="#1d3c7c"/>
<circle cx="388.10" cy="343.70" r="1.6" fill="#1d3c7c"/>
<circle cx="390.70" cy="341.80" r="1.6" fill="#1d3c7c"/>
<circle cx="392.60" cy="341.10" r="1.6" fill="#1d3c7c"/>
<circle cx="395.70" cy="347.50" r="1.6" fill="#1d3c7c"/>
<circle cx="397.60" cy="343.70" r="1.6" fill="#1d3c7c"/>
<circle cx="400.80" cy="346.20" r="1.6" fill="#1d3c7c"/>
<circle cx="421.70" cy="330.10" r="1.6" fill="#1d3c7c"/>
<circle cx="440.60" cy="326.00" r="1.6" fill="#1d3c7c"/>
<circle cx="471.40" cy="320.30" r="1.6" fill="#1d3c7c"/>
<polyline points="39.50,488.40 48.70,473.10 55.10,473.10 77.80,494.30 100.00,494.30 153.90,494.50" fill="none" stroke="#f2a43c" stroke-width="0.9" stroke-linejoin="round"/>
<circle cx="39.50" cy="488.40" r="1.15" fill="#e48a14"/>
<circle cx="48.70" cy="473.10" r="1.15" fill="#e48a14"/>
<circle cx="55.10" cy="473.10" r="1.15" fill="#e48a14"/>
<circle cx="77.80" cy="494.30" r="1.15" fill="#e48a14"/>
<polyline points="39.50,494.30 48.00,493.60 58.00,496.00 77.80,499.30" fill="none" stroke="#66bb55" stroke-width="0.85" stroke-linejoin="round"/>
<path d="M46.50,494.70 L49.50,494.70 L48.00,492.10 Z" fill="#48aa38"/>
<path d="M56.50,497.10 L59.50,497.10 L58.00,494.50 Z" fill="#48aa38"/>
<path d="M76.30,500.40 L79.30,500.40 L77.80,497.80 Z" fill="#48aa38"/>
<polyline points="39.50,499.70 44.20,501.40 55.10,492.60 77.80,494.30 89.10,479.50 100.00,490.10 107.70,498.10 153.80,498.60" fill="none" stroke="#9793e2" stroke-width="0.8" stroke-linejoin="round"/>
<path d="M53.60,491.50 L56.60,491.50 L55.10,494.10 Z" fill="none" stroke="#7f7bd6" stroke-width="0.6"/>
<path d="M87.60,478.40 L90.60,478.40 L89.10,481.00 Z" fill="none" stroke="#7f7bd6" stroke-width="0.6"/>
<polyline points="39.50,440.80 46.20,440.80 51.60,479.50 91.20,475.20 113.80,495.80 148.90,497.30 153.80,497.70" fill="none" stroke="#5a7cb4" stroke-width="0.85" stroke-linejoin="round"/>
<circle cx="39.50" cy="440.80" r="1.6" fill="#1d3c7c"/>
<circle cx="46.20" cy="440.80" r="1.6" fill="#1d3c7c"/>
<circle cx="51.60" cy="479.50" r="1.6" fill="#1d3c7c"/>
<circle cx="91.20" cy="475.20" r="1.6" fill="#1d3c7c"/>
<circle cx="113.80" cy="495.80" r="1.6" fill="#1d3c7c"/>
<circle cx="148.90" cy="497.30" r="1.6" fill="#1d3c7c"/>
<polyline points="39.50,450.40 56.50,470.50 84.90,495.50 102.80,497.70 127.40,496.10 148.30,498.90 153.80,498.90" fill="none" stroke="#c8284e" stroke-width="0.95" stroke-linejoin="round"/>
<rect x="37.90" y="448.80" width="3.2" height="3.2" fill="#b0103a"/>
<rect x="54.90" y="468.90" width="3.2" height="3.2" fill="#b0103a"/>
<rect x="83.30" y="493.90" width="3.2" height="3.2" fill="#b0103a"/>
<rect x="101.20" y="496.10" width="3.2" height="3.2" fill="#b0103a"/>
<rect x="125.80" y="494.50" width="3.2" height="3.2" fill="#b0103a"/>
<rect x="146.70" y="497.30" width="3.2" height="3.2" fill="#b0103a"/>
<polyline points="211.50,500.30 215.80,497.20 222.40,497.20 250.20,500.00 272.00,500.70 326.60,501.20" fill="none" stroke="#f2a43c" stroke-width="0.9" stroke-linejoin="round"/>
<circle cx="211.50" cy="500.30" r="1.15" fill="#e48a14"/>
<circle cx="215.80" cy="497.20" r="1.15" fill="#e48a14"/>
<circle cx="222.40" cy="497.20" r="1.15" fill="#e48a14"/>
<circle cx="250.20" cy="500.00" r="1.15" fill="#e48a14"/>
<polyline points="211.50,488.90 218.60,481.90 228.50,492.60 247.70,497.90" fill="none" stroke="#66bb55" stroke-width="0.85" stroke-linejoin="round"/>
<path d="M210.00,490.00 L213.00,490.00 L211.50,487.40 Z" fill="#48aa38"/>
<path d="M217.10,483.00 L220.10,483.00 L218.60,480.40 Z" fill="#48aa38"/>
<path d="M227.00,493.70 L230.00,493.70 L228.50,491.10 Z" fill="#48aa38"/>
<path d="M246.20,499.00 L249.20,499.00 L247.70,496.40 Z" fill="#48aa38"/>
<polyline points="211.50,478.70 234.20,494.30 240.90,490.80 254.70,495.00 264.70,496.00 285.10,497.50 311.50,500.60 326.60,500.60" fill="none" stroke="#9793e2" stroke-width="0.8" stroke-linejoin="round"/>
<path d="M239.40,489.70 L242.40,489.70 L240.90,492.30 Z" fill="none" stroke="#7f7bd6" stroke-width="0.6"/>
<path d="M263.20,494.90 L266.20,494.90 L264.70,497.50 Z" fill="none" stroke="#7f7bd6" stroke-width="0.6"/>
<path d="M283.60,496.40 L286.60,496.40 L285.10,499.00 Z" fill="none" stroke="#7f7bd6" stroke-width="0.6"/>
<path d="M310.00,499.50 L313.00,499.50 L311.50,502.10 Z" fill="none" stroke="#7f7bd6" stroke-width="0.6"/>
<polyline points="211.50,477.60 228.10,479.50 256.90,496.90 275.10,500.10 300.20,501.60 320.30,501.60 326.60,501.80" fill="none" stroke="#c8284e" stroke-width="0.95" stroke-linejoin="round"/>
<rect x="209.90" y="476.00" width="3.2" height="3.2" fill="#b0103a"/>
<rect x="226.50" y="477.90" width="3.2" height="3.2" fill="#b0103a"/>
<rect x="255.30" y="495.30" width="3.2" height="3.2" fill="#b0103a"/>
<rect x="273.50" y="498.50" width="3.2" height="3.2" fill="#b0103a"/>
<rect x="298.60" y="500.00" width="3.2" height="3.2" fill="#b0103a"/>
<rect x="318.70" y="500.00" width="3.2" height="3.2" fill="#b0103a"/>
<polyline points="211.50,485.50 217.90,445.00 223.60,457.50 236.30,477.60 263.20,484.10 286.40,483.70 321.60,489.50 326.60,489.80" fill="none" stroke="#5a7cb4" stroke-width="0.85" stroke-linejoin="round"/>
<circle cx="211.50" cy="485.50" r="1.6" fill="#1d3c7c"/>
<circle cx="217.90" cy="445.00" r="1.6" fill="#1d3c7c"/>
<circle cx="223.60" cy="457.50" r="1.6" fill="#1d3c7c"/>
<circle cx="236.30" cy="477.60" r="1.6" fill="#1d3c7c"/>
<circle cx="263.20" cy="484.10" r="1.6" fill="#1d3c7c"/>
<circle cx="286.40" cy="483.70" r="1.6" fill="#1d3c7c"/>
<circle cx="321.60" cy="489.50" r="1.6" fill="#1d3c7c"/>
</svg>
</body></html>
